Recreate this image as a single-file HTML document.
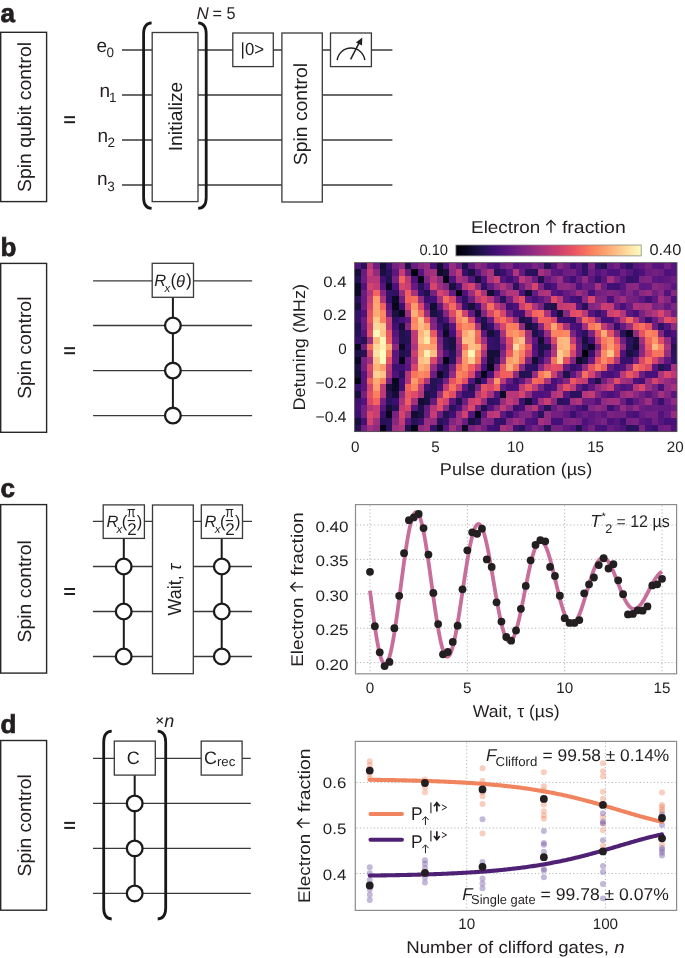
<!DOCTYPE html>
<html><head><meta charset="utf-8"><style>html,body{margin:0;padding:0;background:#fff}svg{display:block;will-change:transform;text-rendering:geometricPrecision}</style></head>
<body><svg width="685" height="958" viewBox="0 0 685 958" font-family="'Liberation Sans', sans-serif" fill="#231f20">
<rect width="685" height="958" fill="#fff"/>
<text x="0.6" y="21.5" font-size="26" font-weight="bold" stroke="#231f20" stroke-width="0.7">a</text>
<text x="0.6" y="255.7" font-size="26" font-weight="bold" stroke="#231f20" stroke-width="0.7">b</text>
<text x="0.6" y="496.8" font-size="26" font-weight="bold" stroke="#231f20" stroke-width="0.7">c</text>
<text x="0.6" y="732.6" font-size="26" font-weight="bold" stroke="#231f20" stroke-width="0.7">d</text>
<rect x="0.7" y="32.3" width="45.90" height="169.30" fill="#fff" stroke="#2a2627" stroke-width="1.4"/>
<text transform="translate(30.8,117.0) rotate(-90)" font-size="19" text-anchor="middle" textLength="150.0" lengthAdjust="spacingAndGlyphs" >Spin qubit control</text>
<rect x="64.2" y="116.2" width="10.8" height="2" fill="#231f20"/>
<rect x="64.2" y="121.2" width="10.8" height="2" fill="#231f20"/>
<line x1="122" y1="50" x2="392.4" y2="50" stroke="#3b3839" stroke-width="1.3" />
<line x1="122" y1="95" x2="392.4" y2="95" stroke="#3b3839" stroke-width="1.3" />
<line x1="122" y1="140" x2="392.4" y2="140" stroke="#3b3839" stroke-width="1.3" />
<line x1="122" y1="185" x2="392.4" y2="185" stroke="#3b3839" stroke-width="1.3" />
<text x="96.5" y="51.9" font-size="19" >e</text>
<text x="106.5" y="57.0" font-size="13.5" >0</text>
<text x="99.6" y="96.7" font-size="19" >n</text>
<text x="108.9" y="101.8" font-size="13.5" >1</text>
<text x="97.5" y="141.7" font-size="19" >n</text>
<text x="107.6" y="147.2" font-size="13.5" >2</text>
<text x="96.9" y="184.5" font-size="19" >n</text>
<text x="107.3" y="190.6" font-size="13.5" >3</text>
<path d="M151.6,22.8 C146.8,23.1 143.6,26.8 143.6,33.8 L143.6,197.4 C143.6,204.4 146.8,208.1 151.6,208.4" fill="none" stroke="#1a1718" stroke-width="2.8"/>
<path d="M198.2,22.8 C203.0,23.1 206.2,26.8 206.2,33.8 L206.2,197.4 C206.2,204.4 203.0,208.1 198.2,208.4" fill="none" stroke="#1a1718" stroke-width="2.8"/>
<rect x="152.2" y="32.5" width="45.80" height="169.10" fill="#fff" stroke="#3b3839" stroke-width="1.3"/>
<text transform="translate(182.4,116.5) rotate(-90)" font-size="19" text-anchor="middle" textLength="69.5" lengthAdjust="spacingAndGlyphs" >Initialize</text>
<text x="196.6" y="19.0" font-size="17" font-style="italic" >N</text>
<text x="212.5" y="19.0" font-size="17" textLength="23" lengthAdjust="spacingAndGlyphs" >= 5</text>
<rect x="232.8" y="33.0" width="40.50" height="33.60" fill="#fff" stroke="#3b3839" stroke-width="1.3"/>
<text x="252.3" y="54.6" font-size="17.5" text-anchor="middle" textLength="23.5" lengthAdjust="spacingAndGlyphs" >|0&gt;</text>
<rect x="281.9" y="33.0" width="40.40" height="169.00" fill="#fff" stroke="#3b3839" stroke-width="1.3"/>
<text transform="translate(307.2,114.1) rotate(-90)" font-size="19" text-anchor="middle" textLength="102.3" lengthAdjust="spacingAndGlyphs" >Spin control</text>
<rect x="330.5" y="33.0" width="40.90" height="33.60" fill="#fff" stroke="#3b3839" stroke-width="1.3"/>
<path d="M337.2,60.2 A13.9,13.9 0 0 1 364.8,60.2" fill="none" stroke="#231f20" stroke-width="1.4"/>
<line x1="350.6" y1="59.4" x2="359.8" y2="41.6" stroke="#231f20" stroke-width="1.5" />
<path d="M362.3,37.4 L362.0,45.6 L355.9,42.6 Z" fill="#231f20"/>
<rect x="0.7" y="263.4" width="45.90" height="168.90" fill="#fff" stroke="#2a2627" stroke-width="1.4"/>
<text transform="translate(30.8,347.7) rotate(-90)" font-size="19" text-anchor="middle" textLength="102.3" lengthAdjust="spacingAndGlyphs" >Spin control</text>
<rect x="64.2" y="347.2" width="10.8" height="2" fill="#231f20"/>
<rect x="64.2" y="352.2" width="10.8" height="2" fill="#231f20"/>
<line x1="93.1" y1="280.8" x2="252.1" y2="280.8" stroke="#3b3839" stroke-width="1.3" />
<line x1="93.1" y1="325.5" x2="252.1" y2="325.5" stroke="#3b3839" stroke-width="1.3" />
<line x1="93.1" y1="370.6" x2="252.1" y2="370.6" stroke="#3b3839" stroke-width="1.3" />
<line x1="93.1" y1="415.6" x2="252.1" y2="415.6" stroke="#3b3839" stroke-width="1.3" />
<line x1="172.9" y1="297.3" x2="172.9" y2="415.6" stroke="#1d1a1b" stroke-width="2.0" />
<rect x="152.2" y="263.3" width="41.30" height="34.00" fill="#fff" stroke="#3b3839" stroke-width="1.3"/>
<circle cx="172.9" cy="325.5" r="7.85" fill="#fff" stroke="#1d1a1b" stroke-width="2.3"/>
<circle cx="172.9" cy="370.6" r="7.85" fill="#fff" stroke="#1d1a1b" stroke-width="2.3"/>
<circle cx="172.9" cy="415.6" r="7.85" fill="#fff" stroke="#1d1a1b" stroke-width="2.3"/>
<text x="154.2" y="286.4" font-size="16.5" font-style="italic" >R</text>
<text x="164.6" y="291.8" font-size="11.5" font-style="italic" >x</text>
<text x="170.4" y="286.0" font-size="17.5" >(</text>
<text x="176.0" y="286.6" font-size="16.5" font-style="italic" >θ</text>
<text x="185.9" y="286.0" font-size="17.5" >)</text>
<rect x="0.7" y="504.6" width="45.90" height="168.50" fill="#fff" stroke="#2a2627" stroke-width="1.4"/>
<text transform="translate(30.8,591.3) rotate(-90)" font-size="19" text-anchor="middle" textLength="102.3" lengthAdjust="spacingAndGlyphs" >Spin control</text>
<rect x="64.2" y="588.0" width="10.8" height="2" fill="#231f20"/>
<rect x="64.2" y="593.0" width="10.8" height="2" fill="#231f20"/>
<line x1="92.9" y1="521.4" x2="252.0" y2="521.4" stroke="#3b3839" stroke-width="1.3" />
<line x1="92.9" y1="566.5" x2="252.0" y2="566.5" stroke="#3b3839" stroke-width="1.3" />
<line x1="92.9" y1="611.5" x2="252.0" y2="611.5" stroke="#3b3839" stroke-width="1.3" />
<line x1="92.9" y1="656.5" x2="252.0" y2="656.5" stroke="#3b3839" stroke-width="1.3" />
<line x1="123.8" y1="538.4" x2="123.8" y2="656.5" stroke="#1d1a1b" stroke-width="2.0" />
<line x1="221.7" y1="538.4" x2="221.7" y2="656.5" stroke="#1d1a1b" stroke-width="2.0" />
<rect x="103.2" y="504.9" width="41.20" height="33.50" fill="#fff" stroke="#3b3839" stroke-width="1.3"/>
<text x="106.5" y="526.5" font-size="16.5" font-style="italic" >R</text>
<text x="116.60000000000001" y="532.6" font-size="11.5" font-style="italic" >x</text>
<text x="121.80000000000001" y="527.2" font-size="16.5" >(</text>
<text x="127.1" y="517.4" font-size="15" textLength="8.6" lengthAdjust="spacingAndGlyphs" >π</text>
<rect x="127.7" y="520.0" width="7.2" height="1.1" fill="#231f20"/>
<text x="127.2" y="535.3" font-size="17" >2</text>
<text x="136.8" y="527.2" font-size="16.5" >)</text>
<circle cx="123.7" cy="566.5" r="7.85" fill="#fff" stroke="#1d1a1b" stroke-width="2.3"/>
<circle cx="123.7" cy="611.5" r="7.85" fill="#fff" stroke="#1d1a1b" stroke-width="2.3"/>
<circle cx="123.7" cy="656.5" r="7.85" fill="#fff" stroke="#1d1a1b" stroke-width="2.3"/>
<rect x="201.3" y="504.9" width="41.20" height="33.50" fill="#fff" stroke="#3b3839" stroke-width="1.3"/>
<text x="204.60000000000002" y="526.5" font-size="16.5" font-style="italic" >R</text>
<text x="214.70000000000002" y="532.6" font-size="11.5" font-style="italic" >x</text>
<text x="219.9" y="527.2" font-size="16.5" >(</text>
<text x="225.20000000000002" y="517.4" font-size="15" textLength="8.6" lengthAdjust="spacingAndGlyphs" >π</text>
<rect x="225.8" y="520.0" width="7.2" height="1.1" fill="#231f20"/>
<text x="225.3" y="535.3" font-size="17" >2</text>
<text x="234.9" y="527.2" font-size="16.5" >)</text>
<circle cx="221.8" cy="566.5" r="7.85" fill="#fff" stroke="#1d1a1b" stroke-width="2.3"/>
<circle cx="221.8" cy="611.5" r="7.85" fill="#fff" stroke="#1d1a1b" stroke-width="2.3"/>
<circle cx="221.8" cy="656.5" r="7.85" fill="#fff" stroke="#1d1a1b" stroke-width="2.3"/>
<rect x="152.5" y="505.0" width="40.80" height="168.70" fill="#fff" stroke="#3b3839" stroke-width="1.3"/>
<text transform="translate(180.6,589.6) rotate(-90)" font-size="19" text-anchor="middle" textLength="51.8" lengthAdjust="spacingAndGlyphs" >Wait, <tspan font-style="italic">τ</tspan></text>
<rect x="0.7" y="740.5" width="45.90" height="169.70" fill="#fff" stroke="#2a2627" stroke-width="1.4"/>
<text transform="translate(30.8,825.4) rotate(-90)" font-size="19" text-anchor="middle" textLength="102.3" lengthAdjust="spacingAndGlyphs" >Spin control</text>
<rect x="64.2" y="821.9" width="10.8" height="2" fill="#231f20"/>
<rect x="64.2" y="826.9" width="10.8" height="2" fill="#231f20"/>
<line x1="93.0" y1="758.4" x2="250.8" y2="758.4" stroke="#3b3839" stroke-width="1.3" />
<line x1="93.0" y1="803.4" x2="250.8" y2="803.4" stroke="#3b3839" stroke-width="1.3" />
<line x1="93.0" y1="848.4" x2="250.8" y2="848.4" stroke="#3b3839" stroke-width="1.3" />
<line x1="93.0" y1="893.4" x2="250.8" y2="893.4" stroke="#3b3839" stroke-width="1.3" />
<path d="M111.7,731.2 C106.9,731.5 103.7,735.2 103.7,742.2 L103.7,908.0 C103.7,915.0 106.9,918.7 111.7,919.0" fill="none" stroke="#1a1718" stroke-width="2.8"/>
<path d="M157.7,731.2 C162.5,731.5 165.7,735.2 165.7,742.2 L165.7,908.0 C165.7,915.0 162.5,918.7 157.7,919.0" fill="none" stroke="#1a1718" stroke-width="2.8"/>
<line x1="134.7" y1="775.1" x2="134.7" y2="893.4" stroke="#1d1a1b" stroke-width="2.0" />
<rect x="114.3" y="741.1" width="41.00" height="34.00" fill="#fff" stroke="#3b3839" stroke-width="1.3"/>
<circle cx="134.7" cy="803.4" r="7.85" fill="#fff" stroke="#1d1a1b" stroke-width="2.3"/>
<circle cx="134.7" cy="848.4" r="7.85" fill="#fff" stroke="#1d1a1b" stroke-width="2.3"/>
<circle cx="134.7" cy="893.4" r="7.85" fill="#fff" stroke="#1d1a1b" stroke-width="2.3"/>
<text x="133.3" y="764.4" font-size="18" text-anchor="middle" >C</text>
<rect x="201.2" y="741.1" width="40.90" height="34.00" fill="#fff" stroke="#3b3839" stroke-width="1.3"/>
<text x="203.9" y="764.4" font-size="18" >C</text>
<text x="216.9" y="766.4" font-size="13" textLength="18.4" lengthAdjust="spacingAndGlyphs" >rec</text>
<path d="M156.7,717.8 L162.7,723.4 M162.7,717.8 L156.7,723.4" stroke="#231f20" stroke-width="1.25" fill="none"/>
<text x="164.2" y="726.8" font-size="18" font-style="italic" >n</text>
<g shape-rendering="crispEdges"><rect x="354.50" y="262.60" width="6.67" height="7.11" fill="#51127c"/><rect x="360.82" y="262.60" width="6.67" height="7.11" fill="#271258"/><rect x="367.15" y="262.60" width="6.67" height="7.11" fill="#bc3978"/><rect x="373.47" y="262.60" width="6.67" height="7.11" fill="#6e1e81"/><rect x="379.79" y="262.60" width="6.67" height="7.11" fill="#130d34"/><rect x="386.12" y="262.60" width="6.67" height="7.11" fill="#36106b"/><rect x="392.44" y="262.60" width="6.67" height="7.11" fill="#762181"/><rect x="398.76" y="262.60" width="6.67" height="7.11" fill="#8e2a81"/><rect x="405.09" y="262.60" width="6.67" height="7.11" fill="#1d1147"/><rect x="411.41" y="262.60" width="6.67" height="7.11" fill="#6a1c81"/><rect x="417.74" y="262.60" width="6.67" height="7.11" fill="#882781"/><rect x="424.06" y="262.60" width="6.67" height="7.11" fill="#992d80"/><rect x="430.38" y="262.60" width="6.67" height="7.11" fill="#451077"/><rect x="436.71" y="262.60" width="6.67" height="7.11" fill="#120d31"/><rect x="443.03" y="262.60" width="6.67" height="7.11" fill="#4f127b"/><rect x="449.35" y="262.60" width="6.67" height="7.11" fill="#962c80"/><rect x="455.68" y="262.60" width="6.67" height="7.11" fill="#6e1e81"/><rect x="462.00" y="262.60" width="6.67" height="7.11" fill="#1e1149"/><rect x="468.32" y="262.60" width="6.67" height="7.11" fill="#5f187f"/><rect x="474.65" y="262.60" width="6.67" height="7.11" fill="#8b2981"/><rect x="480.97" y="262.60" width="6.67" height="7.11" fill="#792282"/><rect x="487.29" y="262.60" width="6.67" height="7.11" fill="#52137c"/><rect x="493.62" y="262.60" width="6.67" height="7.11" fill="#451077"/><rect x="499.94" y="262.60" width="6.67" height="7.11" fill="#701f81"/><rect x="506.26" y="262.60" width="6.67" height="7.11" fill="#7e2482"/><rect x="512.59" y="262.60" width="6.67" height="7.11" fill="#52137c"/><rect x="518.91" y="262.60" width="6.67" height="7.11" fill="#5c167f"/><rect x="525.24" y="262.60" width="6.67" height="7.11" fill="#601880"/><rect x="531.56" y="262.60" width="6.67" height="7.11" fill="#7b2382"/><rect x="537.88" y="262.60" width="6.67" height="7.11" fill="#6b1d81"/><rect x="544.21" y="262.60" width="6.67" height="7.11" fill="#241253"/><rect x="550.53" y="262.60" width="6.67" height="7.11" fill="#4f127b"/><rect x="556.85" y="262.60" width="6.67" height="7.11" fill="#882781"/><rect x="563.18" y="262.60" width="6.67" height="7.11" fill="#6e1e81"/><rect x="569.50" y="262.60" width="6.67" height="7.11" fill="#400f74"/><rect x="575.82" y="262.60" width="6.67" height="7.11" fill="#57157e"/><rect x="582.15" y="262.60" width="6.67" height="7.11" fill="#2f1163"/><rect x="588.47" y="262.60" width="6.67" height="7.11" fill="#7c2382"/><rect x="594.79" y="262.60" width="6.67" height="7.11" fill="#341069"/><rect x="601.12" y="262.60" width="6.67" height="7.11" fill="#221150"/><rect x="607.44" y="262.60" width="6.67" height="7.11" fill="#641a80"/><rect x="613.76" y="262.60" width="6.67" height="7.11" fill="#752181"/><rect x="620.09" y="262.60" width="6.67" height="7.11" fill="#491078"/><rect x="626.41" y="262.60" width="6.67" height="7.11" fill="#2f1163"/><rect x="632.74" y="262.60" width="6.67" height="7.11" fill="#56147d"/><rect x="639.06" y="262.60" width="6.67" height="7.11" fill="#601880"/><rect x="645.38" y="262.60" width="6.67" height="7.11" fill="#732081"/><rect x="651.71" y="262.60" width="6.67" height="7.11" fill="#59157e"/><rect x="658.03" y="262.60" width="6.67" height="7.11" fill="#54137d"/><rect x="664.35" y="262.60" width="6.67" height="7.11" fill="#721f81"/><rect x="670.68" y="262.60" width="6.67" height="7.11" fill="#54137d"/><rect x="354.50" y="269.36" width="6.67" height="7.11" fill="#150e38"/><rect x="360.82" y="269.36" width="6.67" height="7.11" fill="#681c81"/><rect x="367.15" y="269.36" width="6.67" height="7.11" fill="#ca3e72"/><rect x="373.47" y="269.36" width="6.67" height="7.11" fill="#932b80"/><rect x="379.79" y="269.36" width="6.67" height="7.11" fill="#19103f"/><rect x="386.12" y="269.36" width="6.67" height="7.11" fill="#2a115c"/><rect x="392.44" y="269.36" width="6.67" height="7.11" fill="#5d177f"/><rect x="398.76" y="269.36" width="6.67" height="7.11" fill="#c73d73"/><rect x="405.09" y="269.36" width="6.67" height="7.11" fill="#6a1c81"/><rect x="411.41" y="269.36" width="6.67" height="7.11" fill="#03030f"/><rect x="417.74" y="269.36" width="6.67" height="7.11" fill="#56147d"/><rect x="424.06" y="269.36" width="6.67" height="7.11" fill="#992d80"/><rect x="430.38" y="269.36" width="6.67" height="7.11" fill="#a3307e"/><rect x="436.71" y="269.36" width="6.67" height="7.11" fill="#0e0b2b"/><rect x="443.03" y="269.36" width="6.67" height="7.11" fill="#180f3d"/><rect x="449.35" y="269.36" width="6.67" height="7.11" fill="#8e2a81"/><rect x="455.68" y="269.36" width="6.67" height="7.11" fill="#c03a76"/><rect x="462.00" y="269.36" width="6.67" height="7.11" fill="#38106c"/><rect x="468.32" y="269.36" width="6.67" height="7.11" fill="#1a1042"/><rect x="474.65" y="269.36" width="6.67" height="7.11" fill="#56147d"/><rect x="480.97" y="269.36" width="6.67" height="7.11" fill="#8b2981"/><rect x="487.29" y="269.36" width="6.67" height="7.11" fill="#ab337c"/><rect x="493.62" y="269.36" width="6.67" height="7.11" fill="#271258"/><rect x="499.94" y="269.36" width="6.67" height="7.11" fill="#390f6e"/><rect x="506.26" y="269.36" width="6.67" height="7.11" fill="#5c167f"/><rect x="512.59" y="269.36" width="6.67" height="7.11" fill="#b0357b"/><rect x="518.91" y="269.36" width="6.67" height="7.11" fill="#651a80"/><rect x="525.24" y="269.36" width="6.67" height="7.11" fill="#2c115f"/><rect x="531.56" y="269.36" width="6.67" height="7.11" fill="#29115a"/><rect x="537.88" y="269.36" width="6.67" height="7.11" fill="#a5317e"/><rect x="544.21" y="269.36" width="6.67" height="7.11" fill="#8c2981"/><rect x="550.53" y="269.36" width="6.67" height="7.11" fill="#5c167f"/><rect x="556.85" y="269.36" width="6.67" height="7.11" fill="#56147d"/><rect x="563.18" y="269.36" width="6.67" height="7.11" fill="#6d1d81"/><rect x="569.50" y="269.36" width="6.67" height="7.11" fill="#721f81"/><rect x="575.82" y="269.36" width="6.67" height="7.11" fill="#54137d"/><rect x="582.15" y="269.36" width="6.67" height="7.11" fill="#311165"/><rect x="588.47" y="269.36" width="6.67" height="7.11" fill="#6b1d81"/><rect x="594.79" y="269.36" width="6.67" height="7.11" fill="#52137c"/><rect x="601.12" y="269.36" width="6.67" height="7.11" fill="#641a80"/><rect x="607.44" y="269.36" width="6.67" height="7.11" fill="#4c117a"/><rect x="613.76" y="269.36" width="6.67" height="7.11" fill="#4e117b"/><rect x="620.09" y="269.36" width="6.67" height="7.11" fill="#6a1c81"/><rect x="626.41" y="269.36" width="6.67" height="7.11" fill="#56147d"/><rect x="632.74" y="269.36" width="6.67" height="7.11" fill="#3d0f71"/><rect x="639.06" y="269.36" width="6.67" height="7.11" fill="#4e117b"/><rect x="645.38" y="269.36" width="6.67" height="7.11" fill="#6a1c81"/><rect x="651.71" y="269.36" width="6.67" height="7.11" fill="#732081"/><rect x="658.03" y="269.36" width="6.67" height="7.11" fill="#6a1c81"/><rect x="664.35" y="269.36" width="6.67" height="7.11" fill="#4f127b"/><rect x="670.68" y="269.36" width="6.67" height="7.11" fill="#56147d"/><rect x="354.50" y="276.12" width="6.67" height="7.11" fill="#21114e"/><rect x="360.82" y="276.12" width="6.67" height="7.11" fill="#6d1d81"/><rect x="367.15" y="276.12" width="6.67" height="7.11" fill="#b83779"/><rect x="373.47" y="276.12" width="6.67" height="7.11" fill="#b83779"/><rect x="379.79" y="276.12" width="6.67" height="7.11" fill="#3f0f72"/><rect x="386.12" y="276.12" width="6.67" height="7.11" fill="#21114e"/><rect x="392.44" y="276.12" width="6.67" height="7.11" fill="#782281"/><rect x="398.76" y="276.12" width="6.67" height="7.11" fill="#f3655c"/><rect x="405.09" y="276.12" width="6.67" height="7.11" fill="#bc3978"/><rect x="411.41" y="276.12" width="6.67" height="7.11" fill="#4f127b"/><rect x="417.74" y="276.12" width="6.67" height="7.11" fill="#060518"/><rect x="424.06" y="276.12" width="6.67" height="7.11" fill="#802582"/><rect x="430.38" y="276.12" width="6.67" height="7.11" fill="#b73779"/><rect x="436.71" y="276.12" width="6.67" height="7.11" fill="#8c2981"/><rect x="443.03" y="276.12" width="6.67" height="7.11" fill="#040414"/><rect x="449.35" y="276.12" width="6.67" height="7.11" fill="#51127c"/><rect x="455.68" y="276.12" width="6.67" height="7.11" fill="#ab337c"/><rect x="462.00" y="276.12" width="6.67" height="7.11" fill="#992d80"/><rect x="468.32" y="276.12" width="6.67" height="7.11" fill="#57157e"/><rect x="474.65" y="276.12" width="6.67" height="7.11" fill="#180f3d"/><rect x="480.97" y="276.12" width="6.67" height="7.11" fill="#4e117b"/><rect x="487.29" y="276.12" width="6.67" height="7.11" fill="#a8327d"/><rect x="493.62" y="276.12" width="6.67" height="7.11" fill="#cc3f71"/><rect x="499.94" y="276.12" width="6.67" height="7.11" fill="#56147d"/><rect x="506.26" y="276.12" width="6.67" height="7.11" fill="#3f0f72"/><rect x="512.59" y="276.12" width="6.67" height="7.11" fill="#601880"/><rect x="518.91" y="276.12" width="6.67" height="7.11" fill="#bd3977"/><rect x="525.24" y="276.12" width="6.67" height="7.11" fill="#9b2e7f"/><rect x="531.56" y="276.12" width="6.67" height="7.11" fill="#6a1c81"/><rect x="537.88" y="276.12" width="6.67" height="7.11" fill="#221150"/><rect x="544.21" y="276.12" width="6.67" height="7.11" fill="#651a80"/><rect x="550.53" y="276.12" width="6.67" height="7.11" fill="#812581"/><rect x="556.85" y="276.12" width="6.67" height="7.11" fill="#992d80"/><rect x="563.18" y="276.12" width="6.67" height="7.11" fill="#57157e"/><rect x="569.50" y="276.12" width="6.67" height="7.11" fill="#400f74"/><rect x="575.82" y="276.12" width="6.67" height="7.11" fill="#671b80"/><rect x="582.15" y="276.12" width="6.67" height="7.11" fill="#912b81"/><rect x="588.47" y="276.12" width="6.67" height="7.11" fill="#5d177f"/><rect x="594.79" y="276.12" width="6.67" height="7.11" fill="#36106b"/><rect x="601.12" y="276.12" width="6.67" height="7.11" fill="#5a167e"/><rect x="607.44" y="276.12" width="6.67" height="7.11" fill="#a5317e"/><rect x="613.76" y="276.12" width="6.67" height="7.11" fill="#762181"/><rect x="620.09" y="276.12" width="6.67" height="7.11" fill="#57157e"/><rect x="626.41" y="276.12" width="6.67" height="7.11" fill="#341069"/><rect x="632.74" y="276.12" width="6.67" height="7.11" fill="#3d0f71"/><rect x="639.06" y="276.12" width="6.67" height="7.11" fill="#7b2382"/><rect x="645.38" y="276.12" width="6.67" height="7.11" fill="#812581"/><rect x="651.71" y="276.12" width="6.67" height="7.11" fill="#5c167f"/><rect x="658.03" y="276.12" width="6.67" height="7.11" fill="#59157e"/><rect x="664.35" y="276.12" width="6.67" height="7.11" fill="#601880"/><rect x="670.68" y="276.12" width="6.67" height="7.11" fill="#6e1e81"/><rect x="354.50" y="282.88" width="6.67" height="7.11" fill="#0c0926"/><rect x="360.82" y="282.88" width="6.67" height="7.11" fill="#52137c"/><rect x="367.15" y="282.88" width="6.67" height="7.11" fill="#d3436e"/><rect x="373.47" y="282.88" width="6.67" height="7.11" fill="#c43c75"/><rect x="379.79" y="282.88" width="6.67" height="7.11" fill="#59157e"/><rect x="386.12" y="282.88" width="6.67" height="7.11" fill="#0a0822"/><rect x="392.44" y="282.88" width="6.67" height="7.11" fill="#4c117a"/><rect x="398.76" y="282.88" width="6.67" height="7.11" fill="#d6456c"/><rect x="405.09" y="282.88" width="6.67" height="7.11" fill="#ca3e72"/><rect x="411.41" y="282.88" width="6.67" height="7.11" fill="#671b80"/><rect x="417.74" y="282.88" width="6.67" height="7.11" fill="#29115a"/><rect x="424.06" y="282.88" width="6.67" height="7.11" fill="#57157e"/><rect x="430.38" y="282.88" width="6.67" height="7.11" fill="#d8456c"/><rect x="436.71" y="282.88" width="6.67" height="7.11" fill="#a02f7f"/><rect x="443.03" y="282.88" width="6.67" height="7.11" fill="#832681"/><rect x="449.35" y="282.88" width="6.67" height="7.11" fill="#19103f"/><rect x="455.68" y="282.88" width="6.67" height="7.11" fill="#491078"/><rect x="462.00" y="282.88" width="6.67" height="7.11" fill="#b83779"/><rect x="468.32" y="282.88" width="6.67" height="7.11" fill="#d8456c"/><rect x="474.65" y="282.88" width="6.67" height="7.11" fill="#8c2981"/><rect x="480.97" y="282.88" width="6.67" height="7.11" fill="#2f1163"/><rect x="487.29" y="282.88" width="6.67" height="7.11" fill="#651a80"/><rect x="493.62" y="282.88" width="6.67" height="7.11" fill="#912b81"/><rect x="499.94" y="282.88" width="6.67" height="7.11" fill="#b3367a"/><rect x="506.26" y="282.88" width="6.67" height="7.11" fill="#8b2981"/><rect x="512.59" y="282.88" width="6.67" height="7.11" fill="#2c115f"/><rect x="518.91" y="282.88" width="6.67" height="7.11" fill="#701f81"/><rect x="525.24" y="282.88" width="6.67" height="7.11" fill="#9e2f7f"/><rect x="531.56" y="282.88" width="6.67" height="7.11" fill="#d6456c"/><rect x="537.88" y="282.88" width="6.67" height="7.11" fill="#7c2382"/><rect x="544.21" y="282.88" width="6.67" height="7.11" fill="#3b0f70"/><rect x="550.53" y="282.88" width="6.67" height="7.11" fill="#4c117a"/><rect x="556.85" y="282.88" width="6.67" height="7.11" fill="#8e2a81"/><rect x="563.18" y="282.88" width="6.67" height="7.11" fill="#912b81"/><rect x="569.50" y="282.88" width="6.67" height="7.11" fill="#832681"/><rect x="575.82" y="282.88" width="6.67" height="7.11" fill="#4c117a"/><rect x="582.15" y="282.88" width="6.67" height="7.11" fill="#6b1d81"/><rect x="588.47" y="282.88" width="6.67" height="7.11" fill="#681c81"/><rect x="594.79" y="282.88" width="6.67" height="7.11" fill="#a6317d"/><rect x="601.12" y="282.88" width="6.67" height="7.11" fill="#6d1d81"/><rect x="607.44" y="282.88" width="6.67" height="7.11" fill="#400f74"/><rect x="613.76" y="282.88" width="6.67" height="7.11" fill="#400f74"/><rect x="620.09" y="282.88" width="6.67" height="7.11" fill="#57157e"/><rect x="626.41" y="282.88" width="6.67" height="7.11" fill="#882781"/><rect x="632.74" y="282.88" width="6.67" height="7.11" fill="#8b2981"/><rect x="639.06" y="282.88" width="6.67" height="7.11" fill="#5d177f"/><rect x="645.38" y="282.88" width="6.67" height="7.11" fill="#601880"/><rect x="651.71" y="282.88" width="6.67" height="7.11" fill="#8b2981"/><rect x="658.03" y="282.88" width="6.67" height="7.11" fill="#812581"/><rect x="664.35" y="282.88" width="6.67" height="7.11" fill="#762181"/><rect x="670.68" y="282.88" width="6.67" height="7.11" fill="#59157e"/><rect x="354.50" y="289.64" width="6.67" height="7.11" fill="#0b0924"/><rect x="360.82" y="289.64" width="6.67" height="7.11" fill="#6b1d81"/><rect x="367.15" y="289.64" width="6.67" height="7.11" fill="#b5367a"/><rect x="373.47" y="289.64" width="6.67" height="7.11" fill="#f3655c"/><rect x="379.79" y="289.64" width="6.67" height="7.11" fill="#882781"/><rect x="386.12" y="289.64" width="6.67" height="7.11" fill="#341069"/><rect x="392.44" y="289.64" width="6.67" height="7.11" fill="#2f1163"/><rect x="398.76" y="289.64" width="6.67" height="7.11" fill="#982d80"/><rect x="405.09" y="289.64" width="6.67" height="7.11" fill="#f05f5e"/><rect x="411.41" y="289.64" width="6.67" height="7.11" fill="#a6317d"/><rect x="417.74" y="289.64" width="6.67" height="7.11" fill="#390f6e"/><rect x="424.06" y="289.64" width="6.67" height="7.11" fill="#1e1149"/><rect x="430.38" y="289.64" width="6.67" height="7.11" fill="#752181"/><rect x="436.71" y="289.64" width="6.67" height="7.11" fill="#d5446d"/><rect x="443.03" y="289.64" width="6.67" height="7.11" fill="#bd3977"/><rect x="449.35" y="289.64" width="6.67" height="7.11" fill="#621980"/><rect x="455.68" y="289.64" width="6.67" height="7.11" fill="#03030f"/><rect x="462.00" y="289.64" width="6.67" height="7.11" fill="#4c117a"/><rect x="468.32" y="289.64" width="6.67" height="7.11" fill="#9b2e7f"/><rect x="474.65" y="289.64" width="6.67" height="7.11" fill="#e75263"/><rect x="480.97" y="289.64" width="6.67" height="7.11" fill="#a6317d"/><rect x="487.29" y="289.64" width="6.67" height="7.11" fill="#120d31"/><rect x="493.62" y="289.64" width="6.67" height="7.11" fill="#3b0f70"/><rect x="499.94" y="289.64" width="6.67" height="7.11" fill="#882781"/><rect x="506.26" y="289.64" width="6.67" height="7.11" fill="#b0357b"/><rect x="512.59" y="289.64" width="6.67" height="7.11" fill="#b0357b"/><rect x="518.91" y="289.64" width="6.67" height="7.11" fill="#4c117a"/><rect x="525.24" y="289.64" width="6.67" height="7.11" fill="#140e36"/><rect x="531.56" y="289.64" width="6.67" height="7.11" fill="#641a80"/><rect x="537.88" y="289.64" width="6.67" height="7.11" fill="#aa337d"/><rect x="544.21" y="289.64" width="6.67" height="7.11" fill="#b0357b"/><rect x="550.53" y="289.64" width="6.67" height="7.11" fill="#59157e"/><rect x="556.85" y="289.64" width="6.67" height="7.11" fill="#4e117b"/><rect x="563.18" y="289.64" width="6.67" height="7.11" fill="#641a80"/><rect x="569.50" y="289.64" width="6.67" height="7.11" fill="#762181"/><rect x="575.82" y="289.64" width="6.67" height="7.11" fill="#9b2e7f"/><rect x="582.15" y="289.64" width="6.67" height="7.11" fill="#832681"/><rect x="588.47" y="289.64" width="6.67" height="7.11" fill="#471078"/><rect x="594.79" y="289.64" width="6.67" height="7.11" fill="#701f81"/><rect x="601.12" y="289.64" width="6.67" height="7.11" fill="#792282"/><rect x="607.44" y="289.64" width="6.67" height="7.11" fill="#842681"/><rect x="613.76" y="289.64" width="6.67" height="7.11" fill="#7c2382"/><rect x="620.09" y="289.64" width="6.67" height="7.11" fill="#641a80"/><rect x="626.41" y="289.64" width="6.67" height="7.11" fill="#7e2482"/><rect x="632.74" y="289.64" width="6.67" height="7.11" fill="#621980"/><rect x="639.06" y="289.64" width="6.67" height="7.11" fill="#892881"/><rect x="645.38" y="289.64" width="6.67" height="7.11" fill="#962c80"/><rect x="651.71" y="289.64" width="6.67" height="7.11" fill="#701f81"/><rect x="658.03" y="289.64" width="6.67" height="7.11" fill="#862781"/><rect x="664.35" y="289.64" width="6.67" height="7.11" fill="#52137c"/><rect x="670.68" y="289.64" width="6.67" height="7.11" fill="#862781"/><rect x="354.50" y="296.40" width="6.67" height="7.11" fill="#29115a"/><rect x="360.82" y="296.40" width="6.67" height="7.11" fill="#671b80"/><rect x="367.15" y="296.40" width="6.67" height="7.11" fill="#c73d73"/><rect x="373.47" y="296.40" width="6.67" height="7.11" fill="#fe9f6d"/><rect x="379.79" y="296.40" width="6.67" height="7.11" fill="#ae347b"/><rect x="386.12" y="296.40" width="6.67" height="7.11" fill="#341069"/><rect x="392.44" y="296.40" width="6.67" height="7.11" fill="#0d0a29"/><rect x="398.76" y="296.40" width="6.67" height="7.11" fill="#721f81"/><rect x="405.09" y="296.40" width="6.67" height="7.11" fill="#f2645c"/><rect x="411.41" y="296.40" width="6.67" height="7.11" fill="#f66e5c"/><rect x="417.74" y="296.40" width="6.67" height="7.11" fill="#932b80"/><rect x="424.06" y="296.40" width="6.67" height="7.11" fill="#3b0f70"/><rect x="430.38" y="296.40" width="6.67" height="7.11" fill="#440f76"/><rect x="436.71" y="296.40" width="6.67" height="7.11" fill="#a5317e"/><rect x="443.03" y="296.40" width="6.67" height="7.11" fill="#f66c5c"/><rect x="449.35" y="296.40" width="6.67" height="7.11" fill="#d9466b"/><rect x="455.68" y="296.40" width="6.67" height="7.11" fill="#5d177f"/><rect x="462.00" y="296.40" width="6.67" height="7.11" fill="#2f1163"/><rect x="468.32" y="296.40" width="6.67" height="7.11" fill="#701f81"/><rect x="474.65" y="296.40" width="6.67" height="7.11" fill="#c23b75"/><rect x="480.97" y="296.40" width="6.67" height="7.11" fill="#de4968"/><rect x="487.29" y="296.40" width="6.67" height="7.11" fill="#b5367a"/><rect x="493.62" y="296.40" width="6.67" height="7.11" fill="#6d1d81"/><rect x="499.94" y="296.40" width="6.67" height="7.11" fill="#2a115c"/><rect x="506.26" y="296.40" width="6.67" height="7.11" fill="#732081"/><rect x="512.59" y="296.40" width="6.67" height="7.11" fill="#c53c74"/><rect x="518.91" y="296.40" width="6.67" height="7.11" fill="#e44f64"/><rect x="525.24" y="296.40" width="6.67" height="7.11" fill="#5f187f"/><rect x="531.56" y="296.40" width="6.67" height="7.11" fill="#451077"/><rect x="537.88" y="296.40" width="6.67" height="7.11" fill="#5d177f"/><rect x="544.21" y="296.40" width="6.67" height="7.11" fill="#7c2382"/><rect x="550.53" y="296.40" width="6.67" height="7.11" fill="#e04c67"/><rect x="556.85" y="296.40" width="6.67" height="7.11" fill="#bc3978"/><rect x="563.18" y="296.40" width="6.67" height="7.11" fill="#5f187f"/><rect x="569.50" y="296.40" width="6.67" height="7.11" fill="#451077"/><rect x="575.82" y="296.40" width="6.67" height="7.11" fill="#3d0f71"/><rect x="582.15" y="296.40" width="6.67" height="7.11" fill="#8e2a81"/><rect x="588.47" y="296.40" width="6.67" height="7.11" fill="#db476a"/><rect x="594.79" y="296.40" width="6.67" height="7.11" fill="#812581"/><rect x="601.12" y="296.40" width="6.67" height="7.11" fill="#812581"/><rect x="607.44" y="296.40" width="6.67" height="7.11" fill="#4a1079"/><rect x="613.76" y="296.40" width="6.67" height="7.11" fill="#842681"/><rect x="620.09" y="296.40" width="6.67" height="7.11" fill="#9e2f7f"/><rect x="626.41" y="296.40" width="6.67" height="7.11" fill="#752181"/><rect x="632.74" y="296.40" width="6.67" height="7.11" fill="#721f81"/><rect x="639.06" y="296.40" width="6.67" height="7.11" fill="#5c167f"/><rect x="645.38" y="296.40" width="6.67" height="7.11" fill="#420f75"/><rect x="651.71" y="296.40" width="6.67" height="7.11" fill="#601880"/><rect x="658.03" y="296.40" width="6.67" height="7.11" fill="#a02f7f"/><rect x="664.35" y="296.40" width="6.67" height="7.11" fill="#832681"/><rect x="670.68" y="296.40" width="6.67" height="7.11" fill="#4e117b"/><rect x="354.50" y="303.16" width="6.67" height="7.11" fill="#19103f"/><rect x="360.82" y="303.16" width="6.67" height="7.11" fill="#6a1c81"/><rect x="367.15" y="303.16" width="6.67" height="7.11" fill="#d8456c"/><rect x="373.47" y="303.16" width="6.67" height="7.11" fill="#fea772"/><rect x="379.79" y="303.16" width="6.67" height="7.11" fill="#f2625d"/><rect x="386.12" y="303.16" width="6.67" height="7.11" fill="#57157e"/><rect x="392.44" y="303.16" width="6.67" height="7.11" fill="#06051a"/><rect x="398.76" y="303.16" width="6.67" height="7.11" fill="#3d0f71"/><rect x="405.09" y="303.16" width="6.67" height="7.11" fill="#d8456c"/><rect x="411.41" y="303.16" width="6.67" height="7.11" fill="#fd9869"/><rect x="417.74" y="303.16" width="6.67" height="7.11" fill="#db476a"/><rect x="424.06" y="303.16" width="6.67" height="7.11" fill="#621980"/><rect x="430.38" y="303.16" width="6.67" height="7.11" fill="#130d34"/><rect x="436.71" y="303.16" width="6.67" height="7.11" fill="#5d177f"/><rect x="443.03" y="303.16" width="6.67" height="7.11" fill="#c73d73"/><rect x="449.35" y="303.16" width="6.67" height="7.11" fill="#f56b5c"/><rect x="455.68" y="303.16" width="6.67" height="7.11" fill="#b3367a"/><rect x="462.00" y="303.16" width="6.67" height="7.11" fill="#390f6e"/><rect x="468.32" y="303.16" width="6.67" height="7.11" fill="#180f3d"/><rect x="474.65" y="303.16" width="6.67" height="7.11" fill="#420f75"/><rect x="480.97" y="303.16" width="6.67" height="7.11" fill="#b2357b"/><rect x="487.29" y="303.16" width="6.67" height="7.11" fill="#f7705c"/><rect x="493.62" y="303.16" width="6.67" height="7.11" fill="#c23b75"/><rect x="499.94" y="303.16" width="6.67" height="7.11" fill="#992d80"/><rect x="506.26" y="303.16" width="6.67" height="7.11" fill="#3f0f72"/><rect x="512.59" y="303.16" width="6.67" height="7.11" fill="#4f127b"/><rect x="518.91" y="303.16" width="6.67" height="7.11" fill="#ca3e72"/><rect x="525.24" y="303.16" width="6.67" height="7.11" fill="#eb5760"/><rect x="531.56" y="303.16" width="6.67" height="7.11" fill="#ad347c"/><rect x="537.88" y="303.16" width="6.67" height="7.11" fill="#782281"/><rect x="544.21" y="303.16" width="6.67" height="7.11" fill="#241253"/><rect x="550.53" y="303.16" width="6.67" height="7.11" fill="#20114b"/><rect x="556.85" y="303.16" width="6.67" height="7.11" fill="#c03a76"/><rect x="563.18" y="303.16" width="6.67" height="7.11" fill="#ca3e72"/><rect x="569.50" y="303.16" width="6.67" height="7.11" fill="#cf4070"/><rect x="575.82" y="303.16" width="6.67" height="7.11" fill="#59157e"/><rect x="582.15" y="303.16" width="6.67" height="7.11" fill="#271258"/><rect x="588.47" y="303.16" width="6.67" height="7.11" fill="#812581"/><rect x="594.79" y="303.16" width="6.67" height="7.11" fill="#8e2a81"/><rect x="601.12" y="303.16" width="6.67" height="7.11" fill="#ca3e72"/><rect x="607.44" y="303.16" width="6.67" height="7.11" fill="#c53c74"/><rect x="613.76" y="303.16" width="6.67" height="7.11" fill="#6b1d81"/><rect x="620.09" y="303.16" width="6.67" height="7.11" fill="#4a1079"/><rect x="626.41" y="303.16" width="6.67" height="7.11" fill="#681c81"/><rect x="632.74" y="303.16" width="6.67" height="7.11" fill="#ad347c"/><rect x="639.06" y="303.16" width="6.67" height="7.11" fill="#a5317e"/><rect x="645.38" y="303.16" width="6.67" height="7.11" fill="#aa337d"/><rect x="651.71" y="303.16" width="6.67" height="7.11" fill="#782281"/><rect x="658.03" y="303.16" width="6.67" height="7.11" fill="#832681"/><rect x="664.35" y="303.16" width="6.67" height="7.11" fill="#621980"/><rect x="670.68" y="303.16" width="6.67" height="7.11" fill="#802582"/><rect x="354.50" y="309.92" width="6.67" height="7.11" fill="#341069"/><rect x="360.82" y="309.92" width="6.67" height="7.11" fill="#4f127b"/><rect x="367.15" y="309.92" width="6.67" height="7.11" fill="#e75263"/><rect x="373.47" y="309.92" width="6.67" height="7.11" fill="#feaa74"/><rect x="379.79" y="309.92" width="6.67" height="7.11" fill="#fc8961"/><rect x="386.12" y="309.92" width="6.67" height="7.11" fill="#701f81"/><rect x="392.44" y="309.92" width="6.67" height="7.11" fill="#19103f"/><rect x="398.76" y="309.92" width="6.67" height="7.11" fill="#08071e"/><rect x="405.09" y="309.92" width="6.67" height="7.11" fill="#9e2f7f"/><rect x="411.41" y="309.92" width="6.67" height="7.11" fill="#feae77"/><rect x="417.74" y="309.92" width="6.67" height="7.11" fill="#f7725c"/><rect x="424.06" y="309.92" width="6.67" height="7.11" fill="#982d80"/><rect x="430.38" y="309.92" width="6.67" height="7.11" fill="#1a1042"/><rect x="436.71" y="309.92" width="6.67" height="7.11" fill="#2c115f"/><rect x="443.03" y="309.92" width="6.67" height="7.11" fill="#842681"/><rect x="449.35" y="309.92" width="6.67" height="7.11" fill="#df4a68"/><rect x="455.68" y="309.92" width="6.67" height="7.11" fill="#fd9668"/><rect x="462.00" y="309.92" width="6.67" height="7.11" fill="#d0416f"/><rect x="468.32" y="309.92" width="6.67" height="7.11" fill="#641a80"/><rect x="474.65" y="309.92" width="6.67" height="7.11" fill="#150e38"/><rect x="480.97" y="309.92" width="6.67" height="7.11" fill="#802582"/><rect x="487.29" y="309.92" width="6.67" height="7.11" fill="#d6456c"/><rect x="493.62" y="309.92" width="6.67" height="7.11" fill="#f7725c"/><rect x="499.94" y="309.92" width="6.67" height="7.11" fill="#d8456c"/><rect x="506.26" y="309.92" width="6.67" height="7.11" fill="#721f81"/><rect x="512.59" y="309.92" width="6.67" height="7.11" fill="#3f0f72"/><rect x="518.91" y="309.92" width="6.67" height="7.11" fill="#3f0f72"/><rect x="525.24" y="309.92" width="6.67" height="7.11" fill="#ba3878"/><rect x="531.56" y="309.92" width="6.67" height="7.11" fill="#f3655c"/><rect x="537.88" y="309.92" width="6.67" height="7.11" fill="#f66e5c"/><rect x="544.21" y="309.92" width="6.67" height="7.11" fill="#a8327d"/><rect x="550.53" y="309.92" width="6.67" height="7.11" fill="#420f75"/><rect x="556.85" y="309.92" width="6.67" height="7.11" fill="#150e38"/><rect x="563.18" y="309.92" width="6.67" height="7.11" fill="#862781"/><rect x="569.50" y="309.92" width="6.67" height="7.11" fill="#e04c67"/><rect x="575.82" y="309.92" width="6.67" height="7.11" fill="#e75263"/><rect x="582.15" y="309.92" width="6.67" height="7.11" fill="#ba3878"/><rect x="588.47" y="309.92" width="6.67" height="7.11" fill="#56147d"/><rect x="594.79" y="309.92" width="6.67" height="7.11" fill="#36106b"/><rect x="601.12" y="309.92" width="6.67" height="7.11" fill="#56147d"/><rect x="607.44" y="309.92" width="6.67" height="7.11" fill="#cd4071"/><rect x="613.76" y="309.92" width="6.67" height="7.11" fill="#db476a"/><rect x="620.09" y="309.92" width="6.67" height="7.11" fill="#b0357b"/><rect x="626.41" y="309.92" width="6.67" height="7.11" fill="#5c167f"/><rect x="632.74" y="309.92" width="6.67" height="7.11" fill="#471078"/><rect x="639.06" y="309.92" width="6.67" height="7.11" fill="#782281"/><rect x="645.38" y="309.92" width="6.67" height="7.11" fill="#9e2f7f"/><rect x="651.71" y="309.92" width="6.67" height="7.11" fill="#b3367a"/><rect x="658.03" y="309.92" width="6.67" height="7.11" fill="#d9466b"/><rect x="664.35" y="309.92" width="6.67" height="7.11" fill="#a6317d"/><rect x="670.68" y="309.92" width="6.67" height="7.11" fill="#6e1e81"/><rect x="354.50" y="316.68" width="6.67" height="7.11" fill="#36106b"/><rect x="360.82" y="316.68" width="6.67" height="7.11" fill="#6d1d81"/><rect x="367.15" y="316.68" width="6.67" height="7.11" fill="#eb5760"/><rect x="373.47" y="316.68" width="6.67" height="7.11" fill="#feca8d"/><rect x="379.79" y="316.68" width="6.67" height="7.11" fill="#fb835f"/><rect x="386.12" y="316.68" width="6.67" height="7.11" fill="#c53c74"/><rect x="392.44" y="316.68" width="6.67" height="7.11" fill="#2f1163"/><rect x="398.76" y="316.68" width="6.67" height="7.11" fill="#471078"/><rect x="405.09" y="316.68" width="6.67" height="7.11" fill="#5c167f"/><rect x="411.41" y="316.68" width="6.67" height="7.11" fill="#fb8560"/><rect x="417.74" y="316.68" width="6.67" height="7.11" fill="#fec68a"/><rect x="424.06" y="316.68" width="6.67" height="7.11" fill="#ea5661"/><rect x="430.38" y="316.68" width="6.67" height="7.11" fill="#792282"/><rect x="436.71" y="316.68" width="6.67" height="7.11" fill="#29115a"/><rect x="443.03" y="316.68" width="6.67" height="7.11" fill="#491078"/><rect x="449.35" y="316.68" width="6.67" height="7.11" fill="#aa337d"/><rect x="455.68" y="316.68" width="6.67" height="7.11" fill="#fc8961"/><rect x="462.00" y="316.68" width="6.67" height="7.11" fill="#fea973"/><rect x="468.32" y="316.68" width="6.67" height="7.11" fill="#d9466b"/><rect x="474.65" y="316.68" width="6.67" height="7.11" fill="#4a1079"/><rect x="480.97" y="316.68" width="6.67" height="7.11" fill="#20114b"/><rect x="487.29" y="316.68" width="6.67" height="7.11" fill="#681c81"/><rect x="493.62" y="316.68" width="6.67" height="7.11" fill="#eb5760"/><rect x="499.94" y="316.68" width="6.67" height="7.11" fill="#f7725c"/><rect x="506.26" y="316.68" width="6.67" height="7.11" fill="#de4968"/><rect x="512.59" y="316.68" width="6.67" height="7.11" fill="#8e2a81"/><rect x="518.91" y="316.68" width="6.67" height="7.11" fill="#1c1044"/><rect x="525.24" y="316.68" width="6.67" height="7.11" fill="#271258"/><rect x="531.56" y="316.68" width="6.67" height="7.11" fill="#8e2a81"/><rect x="537.88" y="316.68" width="6.67" height="7.11" fill="#f2625d"/><rect x="544.21" y="316.68" width="6.67" height="7.11" fill="#ef5d5e"/><rect x="550.53" y="316.68" width="6.67" height="7.11" fill="#db476a"/><rect x="556.85" y="316.68" width="6.67" height="7.11" fill="#400f74"/><rect x="563.18" y="316.68" width="6.67" height="7.11" fill="#390f6e"/><rect x="569.50" y="316.68" width="6.67" height="7.11" fill="#311165"/><rect x="575.82" y="316.68" width="6.67" height="7.11" fill="#942c80"/><rect x="582.15" y="316.68" width="6.67" height="7.11" fill="#f66c5c"/><rect x="588.47" y="316.68" width="6.67" height="7.11" fill="#e44f64"/><rect x="594.79" y="316.68" width="6.67" height="7.11" fill="#8e2a81"/><rect x="601.12" y="316.68" width="6.67" height="7.11" fill="#440f76"/><rect x="607.44" y="316.68" width="6.67" height="7.11" fill="#440f76"/><rect x="613.76" y="316.68" width="6.67" height="7.11" fill="#721f81"/><rect x="620.09" y="316.68" width="6.67" height="7.11" fill="#c53c74"/><rect x="626.41" y="316.68" width="6.67" height="7.11" fill="#f4695c"/><rect x="632.74" y="316.68" width="6.67" height="7.11" fill="#bc3978"/><rect x="639.06" y="316.68" width="6.67" height="7.11" fill="#732081"/><rect x="645.38" y="316.68" width="6.67" height="7.11" fill="#390f6e"/><rect x="651.71" y="316.68" width="6.67" height="7.11" fill="#681c81"/><rect x="658.03" y="316.68" width="6.67" height="7.11" fill="#a3307e"/><rect x="664.35" y="316.68" width="6.67" height="7.11" fill="#e55064"/><rect x="670.68" y="316.68" width="6.67" height="7.11" fill="#d6456c"/><rect x="354.50" y="323.44" width="6.67" height="7.11" fill="#221150"/><rect x="360.82" y="323.44" width="6.67" height="7.11" fill="#671b80"/><rect x="367.15" y="323.44" width="6.67" height="7.11" fill="#db476a"/><rect x="373.47" y="323.44" width="6.67" height="7.11" fill="#fed89a"/><rect x="379.79" y="323.44" width="6.67" height="7.11" fill="#feca8d"/><rect x="386.12" y="323.44" width="6.67" height="7.11" fill="#bf3a77"/><rect x="392.44" y="323.44" width="6.67" height="7.11" fill="#420f75"/><rect x="398.76" y="323.44" width="6.67" height="7.11" fill="#140e36"/><rect x="405.09" y="323.44" width="6.67" height="7.11" fill="#832681"/><rect x="411.41" y="323.44" width="6.67" height="7.11" fill="#fc8c63"/><rect x="417.74" y="323.44" width="6.67" height="7.11" fill="#febb81"/><rect x="424.06" y="323.44" width="6.67" height="7.11" fill="#fea16e"/><rect x="430.38" y="323.44" width="6.67" height="7.11" fill="#882781"/><rect x="436.71" y="323.44" width="6.67" height="7.11" fill="#3f0f72"/><rect x="443.03" y="323.44" width="6.67" height="7.11" fill="#1a1042"/><rect x="449.35" y="323.44" width="6.67" height="7.11" fill="#57157e"/><rect x="455.68" y="323.44" width="6.67" height="7.11" fill="#f4695c"/><rect x="462.00" y="323.44" width="6.67" height="7.11" fill="#fc8c63"/><rect x="468.32" y="323.44" width="6.67" height="7.11" fill="#fb835f"/><rect x="474.65" y="323.44" width="6.67" height="7.11" fill="#a6317d"/><rect x="480.97" y="323.44" width="6.67" height="7.11" fill="#1a1042"/><rect x="487.29" y="323.44" width="6.67" height="7.11" fill="#331067"/><rect x="493.62" y="323.44" width="6.67" height="7.11" fill="#8e2a81"/><rect x="499.94" y="323.44" width="6.67" height="7.11" fill="#d8456c"/><rect x="506.26" y="323.44" width="6.67" height="7.11" fill="#fa815f"/><rect x="512.59" y="323.44" width="6.67" height="7.11" fill="#f97b5d"/><rect x="518.91" y="323.44" width="6.67" height="7.11" fill="#912b81"/><rect x="525.24" y="323.44" width="6.67" height="7.11" fill="#180f3d"/><rect x="531.56" y="323.44" width="6.67" height="7.11" fill="#241253"/><rect x="537.88" y="323.44" width="6.67" height="7.11" fill="#812581"/><rect x="544.21" y="323.44" width="6.67" height="7.11" fill="#ec5860"/><rect x="550.53" y="323.44" width="6.67" height="7.11" fill="#fea571"/><rect x="556.85" y="323.44" width="6.67" height="7.11" fill="#f05f5e"/><rect x="563.18" y="323.44" width="6.67" height="7.11" fill="#a6317d"/><rect x="569.50" y="323.44" width="6.67" height="7.11" fill="#4c117a"/><rect x="575.82" y="323.44" width="6.67" height="7.11" fill="#440f76"/><rect x="582.15" y="323.44" width="6.67" height="7.11" fill="#a3307e"/><rect x="588.47" y="323.44" width="6.67" height="7.11" fill="#f8765c"/><rect x="594.79" y="323.44" width="6.67" height="7.11" fill="#fc8e64"/><rect x="601.12" y="323.44" width="6.67" height="7.11" fill="#c23b75"/><rect x="607.44" y="323.44" width="6.67" height="7.11" fill="#882781"/><rect x="613.76" y="323.44" width="6.67" height="7.11" fill="#331067"/><rect x="620.09" y="323.44" width="6.67" height="7.11" fill="#641a80"/><rect x="626.41" y="323.44" width="6.67" height="7.11" fill="#982d80"/><rect x="632.74" y="323.44" width="6.67" height="7.11" fill="#ef5d5e"/><rect x="639.06" y="323.44" width="6.67" height="7.11" fill="#f7705c"/><rect x="645.38" y="323.44" width="6.67" height="7.11" fill="#e75263"/><rect x="651.71" y="323.44" width="6.67" height="7.11" fill="#701f81"/><rect x="658.03" y="323.44" width="6.67" height="7.11" fill="#2f1163"/><rect x="664.35" y="323.44" width="6.67" height="7.11" fill="#54137d"/><rect x="670.68" y="323.44" width="6.67" height="7.11" fill="#912b81"/><rect x="354.50" y="330.20" width="6.67" height="7.11" fill="#29115a"/><rect x="360.82" y="330.20" width="6.67" height="7.11" fill="#54137d"/><rect x="367.15" y="330.20" width="6.67" height="7.11" fill="#e75263"/><rect x="373.47" y="330.20" width="6.67" height="7.11" fill="#fcf9bb"/><rect x="379.79" y="330.20" width="6.67" height="7.11" fill="#fec68a"/><rect x="386.12" y="330.20" width="6.67" height="7.11" fill="#e85362"/><rect x="392.44" y="330.20" width="6.67" height="7.11" fill="#57157e"/><rect x="398.76" y="330.20" width="6.67" height="7.11" fill="#20114b"/><rect x="405.09" y="330.20" width="6.67" height="7.11" fill="#2d1161"/><rect x="411.41" y="330.20" width="6.67" height="7.11" fill="#c03a76"/><rect x="417.74" y="330.20" width="6.67" height="7.11" fill="#feb67c"/><rect x="424.06" y="330.20" width="6.67" height="7.11" fill="#fed799"/><rect x="430.38" y="330.20" width="6.67" height="7.11" fill="#eb5760"/><rect x="436.71" y="330.20" width="6.67" height="7.11" fill="#5c167f"/><rect x="443.03" y="330.20" width="6.67" height="7.11" fill="#0b0924"/><rect x="449.35" y="330.20" width="6.67" height="7.11" fill="#471078"/><rect x="455.68" y="330.20" width="6.67" height="7.11" fill="#d6456c"/><rect x="462.00" y="330.20" width="6.67" height="7.11" fill="#fea973"/><rect x="468.32" y="330.20" width="6.67" height="7.11" fill="#fec488"/><rect x="474.65" y="330.20" width="6.67" height="7.11" fill="#f4675c"/><rect x="480.97" y="330.20" width="6.67" height="7.11" fill="#5d177f"/><rect x="487.29" y="330.20" width="6.67" height="7.11" fill="#160f3b"/><rect x="493.62" y="330.20" width="6.67" height="7.11" fill="#2d1161"/><rect x="499.94" y="330.20" width="6.67" height="7.11" fill="#ab337c"/><rect x="506.26" y="330.20" width="6.67" height="7.11" fill="#fc8961"/><rect x="512.59" y="330.20" width="6.67" height="7.11" fill="#fd9869"/><rect x="518.91" y="330.20" width="6.67" height="7.11" fill="#f97b5d"/><rect x="525.24" y="330.20" width="6.67" height="7.11" fill="#9e2f7f"/><rect x="531.56" y="330.20" width="6.67" height="7.11" fill="#1d1147"/><rect x="537.88" y="330.20" width="6.67" height="7.11" fill="#36106b"/><rect x="544.21" y="330.20" width="6.67" height="7.11" fill="#992d80"/><rect x="550.53" y="330.20" width="6.67" height="7.11" fill="#fb8560"/><rect x="556.85" y="330.20" width="6.67" height="7.11" fill="#fb835f"/><rect x="563.18" y="330.20" width="6.67" height="7.11" fill="#fc8961"/><rect x="569.50" y="330.20" width="6.67" height="7.11" fill="#7b2382"/><rect x="575.82" y="330.20" width="6.67" height="7.11" fill="#440f76"/><rect x="582.15" y="330.20" width="6.67" height="7.11" fill="#2a115c"/><rect x="588.47" y="330.20" width="6.67" height="7.11" fill="#7c2382"/><rect x="594.79" y="330.20" width="6.67" height="7.11" fill="#ec5860"/><rect x="601.12" y="330.20" width="6.67" height="7.11" fill="#feac76"/><rect x="607.44" y="330.20" width="6.67" height="7.11" fill="#e75263"/><rect x="613.76" y="330.20" width="6.67" height="7.11" fill="#862781"/><rect x="620.09" y="330.20" width="6.67" height="7.11" fill="#271258"/><rect x="626.41" y="330.20" width="6.67" height="7.11" fill="#0c0926"/><rect x="632.74" y="330.20" width="6.67" height="7.11" fill="#912b81"/><rect x="639.06" y="330.20" width="6.67" height="7.11" fill="#e95462"/><rect x="645.38" y="330.20" width="6.67" height="7.11" fill="#fb8560"/><rect x="651.71" y="330.20" width="6.67" height="7.11" fill="#f9795d"/><rect x="658.03" y="330.20" width="6.67" height="7.11" fill="#812581"/><rect x="664.35" y="330.20" width="6.67" height="7.11" fill="#390f6e"/><rect x="670.68" y="330.20" width="6.67" height="7.11" fill="#4e117b"/><rect x="354.50" y="336.96" width="6.67" height="7.11" fill="#390f6e"/><rect x="360.82" y="336.96" width="6.67" height="7.11" fill="#241253"/><rect x="367.15" y="336.96" width="6.67" height="7.11" fill="#9e2f7f"/><rect x="373.47" y="336.96" width="6.67" height="7.11" fill="#feb97f"/><rect x="379.79" y="336.96" width="6.67" height="7.11" fill="#fcf7b9"/><rect x="386.12" y="336.96" width="6.67" height="7.11" fill="#ee5b5e"/><rect x="392.44" y="336.96" width="6.67" height="7.11" fill="#671b80"/><rect x="398.76" y="336.96" width="6.67" height="7.11" fill="#21114e"/><rect x="405.09" y="336.96" width="6.67" height="7.11" fill="#241253"/><rect x="411.41" y="336.96" width="6.67" height="7.11" fill="#bd3977"/><rect x="417.74" y="336.96" width="6.67" height="7.11" fill="#febf84"/><rect x="424.06" y="336.96" width="6.67" height="7.11" fill="#fde7a9"/><rect x="430.38" y="336.96" width="6.67" height="7.11" fill="#fc8a62"/><rect x="436.71" y="336.96" width="6.67" height="7.11" fill="#7b2382"/><rect x="443.03" y="336.96" width="6.67" height="7.11" fill="#29115a"/><rect x="449.35" y="336.96" width="6.67" height="7.11" fill="#1c1044"/><rect x="455.68" y="336.96" width="6.67" height="7.11" fill="#ad347c"/><rect x="462.00" y="336.96" width="6.67" height="7.11" fill="#fec185"/><rect x="468.32" y="336.96" width="6.67" height="7.11" fill="#febf84"/><rect x="474.65" y="336.96" width="6.67" height="7.11" fill="#f2625d"/><rect x="480.97" y="336.96" width="6.67" height="7.11" fill="#9c2e7f"/><rect x="487.29" y="336.96" width="6.67" height="7.11" fill="#38106c"/><rect x="493.62" y="336.96" width="6.67" height="7.11" fill="#2d1161"/><rect x="499.94" y="336.96" width="6.67" height="7.11" fill="#842681"/><rect x="506.26" y="336.96" width="6.67" height="7.11" fill="#e24d66"/><rect x="512.59" y="336.96" width="6.67" height="7.11" fill="#feaa74"/><rect x="518.91" y="336.96" width="6.67" height="7.11" fill="#fec185"/><rect x="525.24" y="336.96" width="6.67" height="7.11" fill="#ab337c"/><rect x="531.56" y="336.96" width="6.67" height="7.11" fill="#5c167f"/><rect x="537.88" y="336.96" width="6.67" height="7.11" fill="#130d34"/><rect x="544.21" y="336.96" width="6.67" height="7.11" fill="#601880"/><rect x="550.53" y="336.96" width="6.67" height="7.11" fill="#dc4869"/><rect x="556.85" y="336.96" width="6.67" height="7.11" fill="#feb67c"/><rect x="563.18" y="336.96" width="6.67" height="7.11" fill="#febb81"/><rect x="569.50" y="336.96" width="6.67" height="7.11" fill="#c73d73"/><rect x="575.82" y="336.96" width="6.67" height="7.11" fill="#621980"/><rect x="582.15" y="336.96" width="6.67" height="7.11" fill="#180f3d"/><rect x="588.47" y="336.96" width="6.67" height="7.11" fill="#400f74"/><rect x="594.79" y="336.96" width="6.67" height="7.11" fill="#c43c75"/><rect x="601.12" y="336.96" width="6.67" height="7.11" fill="#f97b5d"/><rect x="607.44" y="336.96" width="6.67" height="7.11" fill="#fd9467"/><rect x="613.76" y="336.96" width="6.67" height="7.11" fill="#df4a68"/><rect x="620.09" y="336.96" width="6.67" height="7.11" fill="#6e1e81"/><rect x="626.41" y="336.96" width="6.67" height="7.11" fill="#2d1161"/><rect x="632.74" y="336.96" width="6.67" height="7.11" fill="#19103f"/><rect x="639.06" y="336.96" width="6.67" height="7.11" fill="#a02f7f"/><rect x="645.38" y="336.96" width="6.67" height="7.11" fill="#f4675c"/><rect x="651.71" y="336.96" width="6.67" height="7.11" fill="#fd9668"/><rect x="658.03" y="336.96" width="6.67" height="7.11" fill="#e24d66"/><rect x="664.35" y="336.96" width="6.67" height="7.11" fill="#932b80"/><rect x="670.68" y="336.96" width="6.67" height="7.11" fill="#3b0f70"/><rect x="354.50" y="343.72" width="6.67" height="7.11" fill="#090720"/><rect x="360.82" y="343.72" width="6.67" height="7.11" fill="#6b1d81"/><rect x="367.15" y="343.72" width="6.67" height="7.11" fill="#f66c5c"/><rect x="373.47" y="343.72" width="6.67" height="7.11" fill="#fdda9c"/><rect x="379.79" y="343.72" width="6.67" height="7.11" fill="#fceeb0"/><rect x="386.12" y="343.72" width="6.67" height="7.11" fill="#fea772"/><rect x="392.44" y="343.72" width="6.67" height="7.11" fill="#892881"/><rect x="398.76" y="343.72" width="6.67" height="7.11" fill="#0b0924"/><rect x="405.09" y="343.72" width="6.67" height="7.11" fill="#331067"/><rect x="411.41" y="343.72" width="6.67" height="7.11" fill="#ae347b"/><rect x="417.74" y="343.72" width="6.67" height="7.11" fill="#fea571"/><rect x="424.06" y="343.72" width="6.67" height="7.11" fill="#fea973"/><rect x="430.38" y="343.72" width="6.67" height="7.11" fill="#fea16e"/><rect x="436.71" y="343.72" width="6.67" height="7.11" fill="#882781"/><rect x="443.03" y="343.72" width="6.67" height="7.11" fill="#271258"/><rect x="449.35" y="343.72" width="6.67" height="7.11" fill="#1c1044"/><rect x="455.68" y="343.72" width="6.67" height="7.11" fill="#962c80"/><rect x="462.00" y="343.72" width="6.67" height="7.11" fill="#f7705c"/><rect x="468.32" y="343.72" width="6.67" height="7.11" fill="#febf84"/><rect x="474.65" y="343.72" width="6.67" height="7.11" fill="#feb47b"/><rect x="480.97" y="343.72" width="6.67" height="7.11" fill="#d6456c"/><rect x="487.29" y="343.72" width="6.67" height="7.11" fill="#341069"/><rect x="493.62" y="343.72" width="6.67" height="7.11" fill="#2f1163"/><rect x="499.94" y="343.72" width="6.67" height="7.11" fill="#621980"/><rect x="506.26" y="343.72" width="6.67" height="7.11" fill="#d6456c"/><rect x="512.59" y="343.72" width="6.67" height="7.11" fill="#fddc9e"/><rect x="518.91" y="343.72" width="6.67" height="7.11" fill="#fea16e"/><rect x="525.24" y="343.72" width="6.67" height="7.11" fill="#eb5760"/><rect x="531.56" y="343.72" width="6.67" height="7.11" fill="#4e117b"/><rect x="537.88" y="343.72" width="6.67" height="7.11" fill="#1c1044"/><rect x="544.21" y="343.72" width="6.67" height="7.11" fill="#221150"/><rect x="550.53" y="343.72" width="6.67" height="7.11" fill="#a3307e"/><rect x="556.85" y="343.72" width="6.67" height="7.11" fill="#feb078"/><rect x="563.18" y="343.72" width="6.67" height="7.11" fill="#febb81"/><rect x="569.50" y="343.72" width="6.67" height="7.11" fill="#f05f5e"/><rect x="575.82" y="343.72" width="6.67" height="7.11" fill="#6d1d81"/><rect x="582.15" y="343.72" width="6.67" height="7.11" fill="#241253"/><rect x="588.47" y="343.72" width="6.67" height="7.11" fill="#0d0a29"/><rect x="594.79" y="343.72" width="6.67" height="7.11" fill="#732081"/><rect x="601.12" y="343.72" width="6.67" height="7.11" fill="#f4695c"/><rect x="607.44" y="343.72" width="6.67" height="7.11" fill="#fd9b6b"/><rect x="613.76" y="343.72" width="6.67" height="7.11" fill="#f4675c"/><rect x="620.09" y="343.72" width="6.67" height="7.11" fill="#942c80"/><rect x="626.41" y="343.72" width="6.67" height="7.11" fill="#29115a"/><rect x="632.74" y="343.72" width="6.67" height="7.11" fill="#140e36"/><rect x="639.06" y="343.72" width="6.67" height="7.11" fill="#862781"/><rect x="645.38" y="343.72" width="6.67" height="7.11" fill="#ed5a5f"/><rect x="651.71" y="343.72" width="6.67" height="7.11" fill="#febb81"/><rect x="658.03" y="343.72" width="6.67" height="7.11" fill="#fb8761"/><rect x="664.35" y="343.72" width="6.67" height="7.11" fill="#ab337c"/><rect x="670.68" y="343.72" width="6.67" height="7.11" fill="#241253"/><rect x="354.50" y="350.48" width="6.67" height="7.11" fill="#1e1149"/><rect x="360.82" y="350.48" width="6.67" height="7.11" fill="#271258"/><rect x="367.15" y="350.48" width="6.67" height="7.11" fill="#d6456c"/><rect x="373.47" y="350.48" width="6.67" height="7.11" fill="#fde3a5"/><rect x="379.79" y="350.48" width="6.67" height="7.11" fill="#fcfdbf"/><rect x="386.12" y="350.48" width="6.67" height="7.11" fill="#f97b5d"/><rect x="392.44" y="350.48" width="6.67" height="7.11" fill="#5a167e"/><rect x="398.76" y="350.48" width="6.67" height="7.11" fill="#20114b"/><rect x="405.09" y="350.48" width="6.67" height="7.11" fill="#271258"/><rect x="411.41" y="350.48" width="6.67" height="7.11" fill="#ca3e72"/><rect x="417.74" y="350.48" width="6.67" height="7.11" fill="#feaa74"/><rect x="424.06" y="350.48" width="6.67" height="7.11" fill="#fcf0b2"/><rect x="430.38" y="350.48" width="6.67" height="7.11" fill="#febf84"/><rect x="436.71" y="350.48" width="6.67" height="7.11" fill="#9b2e7f"/><rect x="443.03" y="350.48" width="6.67" height="7.11" fill="#51127c"/><rect x="449.35" y="350.48" width="6.67" height="7.11" fill="#271258"/><rect x="455.68" y="350.48" width="6.67" height="7.11" fill="#8b2981"/><rect x="462.00" y="350.48" width="6.67" height="7.11" fill="#fea36f"/><rect x="468.32" y="350.48" width="6.67" height="7.11" fill="#fcf7b9"/><rect x="474.65" y="350.48" width="6.67" height="7.11" fill="#fc8961"/><rect x="480.97" y="350.48" width="6.67" height="7.11" fill="#a6317d"/><rect x="487.29" y="350.48" width="6.67" height="7.11" fill="#150e38"/><rect x="493.62" y="350.48" width="6.67" height="7.11" fill="#160f3b"/><rect x="499.94" y="350.48" width="6.67" height="7.11" fill="#802582"/><rect x="506.26" y="350.48" width="6.67" height="7.11" fill="#ec5860"/><rect x="512.59" y="350.48" width="6.67" height="7.11" fill="#feae77"/><rect x="518.91" y="350.48" width="6.67" height="7.11" fill="#fa815f"/><rect x="525.24" y="350.48" width="6.67" height="7.11" fill="#ca3e72"/><rect x="531.56" y="350.48" width="6.67" height="7.11" fill="#56147d"/><rect x="537.88" y="350.48" width="6.67" height="7.11" fill="#20114b"/><rect x="544.21" y="350.48" width="6.67" height="7.11" fill="#57157e"/><rect x="550.53" y="350.48" width="6.67" height="7.11" fill="#b3367a"/><rect x="556.85" y="350.48" width="6.67" height="7.11" fill="#fecc8f"/><rect x="563.18" y="350.48" width="6.67" height="7.11" fill="#fea772"/><rect x="569.50" y="350.48" width="6.67" height="7.11" fill="#d6456c"/><rect x="575.82" y="350.48" width="6.67" height="7.11" fill="#6b1d81"/><rect x="582.15" y="350.48" width="6.67" height="7.11" fill="#000004"/><rect x="588.47" y="350.48" width="6.67" height="7.11" fill="#38106c"/><rect x="594.79" y="350.48" width="6.67" height="7.11" fill="#a6317d"/><rect x="601.12" y="350.48" width="6.67" height="7.11" fill="#fc8c63"/><rect x="607.44" y="350.48" width="6.67" height="7.11" fill="#fec68a"/><rect x="613.76" y="350.48" width="6.67" height="7.11" fill="#f05f5e"/><rect x="620.09" y="350.48" width="6.67" height="7.11" fill="#51127c"/><rect x="626.41" y="350.48" width="6.67" height="7.11" fill="#19103f"/><rect x="632.74" y="350.48" width="6.67" height="7.11" fill="#2c115f"/><rect x="639.06" y="350.48" width="6.67" height="7.11" fill="#8b2981"/><rect x="645.38" y="350.48" width="6.67" height="7.11" fill="#df4a68"/><rect x="651.71" y="350.48" width="6.67" height="7.11" fill="#f8745c"/><rect x="658.03" y="350.48" width="6.67" height="7.11" fill="#f7725c"/><rect x="664.35" y="350.48" width="6.67" height="7.11" fill="#942c80"/><rect x="670.68" y="350.48" width="6.67" height="7.11" fill="#2c115f"/><rect x="354.50" y="357.24" width="6.67" height="7.11" fill="#0a0822"/><rect x="360.82" y="357.24" width="6.67" height="7.11" fill="#782281"/><rect x="367.15" y="357.24" width="6.67" height="7.11" fill="#a8327d"/><rect x="373.47" y="357.24" width="6.67" height="7.11" fill="#fec488"/><rect x="379.79" y="357.24" width="6.67" height="7.11" fill="#fcfdbf"/><rect x="386.12" y="357.24" width="6.67" height="7.11" fill="#e55064"/><rect x="392.44" y="357.24" width="6.67" height="7.11" fill="#601880"/><rect x="398.76" y="357.24" width="6.67" height="7.11" fill="#060518"/><rect x="405.09" y="357.24" width="6.67" height="7.11" fill="#621980"/><rect x="411.41" y="357.24" width="6.67" height="7.11" fill="#b3367a"/><rect x="417.74" y="357.24" width="6.67" height="7.11" fill="#febd82"/><rect x="424.06" y="357.24" width="6.67" height="7.11" fill="#fecc8f"/><rect x="430.38" y="357.24" width="6.67" height="7.11" fill="#dc4869"/><rect x="436.71" y="357.24" width="6.67" height="7.11" fill="#782281"/><rect x="443.03" y="357.24" width="6.67" height="7.11" fill="#050416"/><rect x="449.35" y="357.24" width="6.67" height="7.11" fill="#2c115f"/><rect x="455.68" y="357.24" width="6.67" height="7.11" fill="#b83779"/><rect x="462.00" y="357.24" width="6.67" height="7.11" fill="#fd9668"/><rect x="468.32" y="357.24" width="6.67" height="7.11" fill="#feca8d"/><rect x="474.65" y="357.24" width="6.67" height="7.11" fill="#f7725c"/><rect x="480.97" y="357.24" width="6.67" height="7.11" fill="#6b1d81"/><rect x="487.29" y="357.24" width="6.67" height="7.11" fill="#130d34"/><rect x="493.62" y="357.24" width="6.67" height="7.11" fill="#271258"/><rect x="499.94" y="357.24" width="6.67" height="7.11" fill="#9e2f7f"/><rect x="506.26" y="357.24" width="6.67" height="7.11" fill="#fd9b6b"/><rect x="512.59" y="357.24" width="6.67" height="7.11" fill="#feae77"/><rect x="518.91" y="357.24" width="6.67" height="7.11" fill="#f56b5c"/><rect x="525.24" y="357.24" width="6.67" height="7.11" fill="#792282"/><rect x="531.56" y="357.24" width="6.67" height="7.11" fill="#130d34"/><rect x="537.88" y="357.24" width="6.67" height="7.11" fill="#400f74"/><rect x="544.21" y="357.24" width="6.67" height="7.11" fill="#7e2482"/><rect x="550.53" y="357.24" width="6.67" height="7.11" fill="#f7725c"/><rect x="556.85" y="357.24" width="6.67" height="7.11" fill="#feca8d"/><rect x="563.18" y="357.24" width="6.67" height="7.11" fill="#e34e65"/><rect x="569.50" y="357.24" width="6.67" height="7.11" fill="#832681"/><rect x="575.82" y="357.24" width="6.67" height="7.11" fill="#0e0b2b"/><rect x="582.15" y="357.24" width="6.67" height="7.11" fill="#20114b"/><rect x="588.47" y="357.24" width="6.67" height="7.11" fill="#671b80"/><rect x="594.79" y="357.24" width="6.67" height="7.11" fill="#e95462"/><rect x="601.12" y="357.24" width="6.67" height="7.11" fill="#fc8a62"/><rect x="607.44" y="357.24" width="6.67" height="7.11" fill="#f2645c"/><rect x="613.76" y="357.24" width="6.67" height="7.11" fill="#ae347b"/><rect x="620.09" y="357.24" width="6.67" height="7.11" fill="#38106c"/><rect x="626.41" y="357.24" width="6.67" height="7.11" fill="#36106b"/><rect x="632.74" y="357.24" width="6.67" height="7.11" fill="#762181"/><rect x="639.06" y="357.24" width="6.67" height="7.11" fill="#dc4869"/><rect x="645.38" y="357.24" width="6.67" height="7.11" fill="#f7725c"/><rect x="651.71" y="357.24" width="6.67" height="7.11" fill="#d3436e"/><rect x="658.03" y="357.24" width="6.67" height="7.11" fill="#982d80"/><rect x="664.35" y="357.24" width="6.67" height="7.11" fill="#5d177f"/><rect x="670.68" y="357.24" width="6.67" height="7.11" fill="#331067"/><rect x="354.50" y="364.00" width="6.67" height="7.11" fill="#1c1044"/><rect x="360.82" y="364.00" width="6.67" height="7.11" fill="#762181"/><rect x="367.15" y="364.00" width="6.67" height="7.11" fill="#db476a"/><rect x="373.47" y="364.00" width="6.67" height="7.11" fill="#feb67c"/><rect x="379.79" y="364.00" width="6.67" height="7.11" fill="#fd9b6b"/><rect x="386.12" y="364.00" width="6.67" height="7.11" fill="#ba3878"/><rect x="392.44" y="364.00" width="6.67" height="7.11" fill="#3f0f72"/><rect x="398.76" y="364.00" width="6.67" height="7.11" fill="#3d0f71"/><rect x="405.09" y="364.00" width="6.67" height="7.11" fill="#5c167f"/><rect x="411.41" y="364.00" width="6.67" height="7.11" fill="#d6456c"/><rect x="417.74" y="364.00" width="6.67" height="7.11" fill="#feae77"/><rect x="424.06" y="364.00" width="6.67" height="7.11" fill="#fd9b6b"/><rect x="430.38" y="364.00" width="6.67" height="7.11" fill="#932b80"/><rect x="436.71" y="364.00" width="6.67" height="7.11" fill="#3d0f71"/><rect x="443.03" y="364.00" width="6.67" height="7.11" fill="#271258"/><rect x="449.35" y="364.00" width="6.67" height="7.11" fill="#732081"/><rect x="455.68" y="364.00" width="6.67" height="7.11" fill="#f2645c"/><rect x="462.00" y="364.00" width="6.67" height="7.11" fill="#fd9266"/><rect x="468.32" y="364.00" width="6.67" height="7.11" fill="#f1605d"/><rect x="474.65" y="364.00" width="6.67" height="7.11" fill="#bd3977"/><rect x="480.97" y="364.00" width="6.67" height="7.11" fill="#4a1079"/><rect x="487.29" y="364.00" width="6.67" height="7.11" fill="#090720"/><rect x="493.62" y="364.00" width="6.67" height="7.11" fill="#7c2382"/><rect x="499.94" y="364.00" width="6.67" height="7.11" fill="#ee5b5e"/><rect x="506.26" y="364.00" width="6.67" height="7.11" fill="#feb078"/><rect x="512.59" y="364.00" width="6.67" height="7.11" fill="#f7725c"/><rect x="518.91" y="364.00" width="6.67" height="7.11" fill="#862781"/><rect x="525.24" y="364.00" width="6.67" height="7.11" fill="#331067"/><rect x="531.56" y="364.00" width="6.67" height="7.11" fill="#2d1161"/><rect x="537.88" y="364.00" width="6.67" height="7.11" fill="#832681"/><rect x="544.21" y="364.00" width="6.67" height="7.11" fill="#cf4070"/><rect x="550.53" y="364.00" width="6.67" height="7.11" fill="#e44f64"/><rect x="556.85" y="364.00" width="6.67" height="7.11" fill="#df4a68"/><rect x="563.18" y="364.00" width="6.67" height="7.11" fill="#621980"/><rect x="569.50" y="364.00" width="6.67" height="7.11" fill="#341069"/><rect x="575.82" y="364.00" width="6.67" height="7.11" fill="#451077"/><rect x="582.15" y="364.00" width="6.67" height="7.11" fill="#932b80"/><rect x="588.47" y="364.00" width="6.67" height="7.11" fill="#e75263"/><rect x="594.79" y="364.00" width="6.67" height="7.11" fill="#fa7f5e"/><rect x="601.12" y="364.00" width="6.67" height="7.11" fill="#ed5a5f"/><rect x="607.44" y="364.00" width="6.67" height="7.11" fill="#671b80"/><rect x="613.76" y="364.00" width="6.67" height="7.11" fill="#451077"/><rect x="620.09" y="364.00" width="6.67" height="7.11" fill="#51127c"/><rect x="626.41" y="364.00" width="6.67" height="7.11" fill="#9b2e7f"/><rect x="632.74" y="364.00" width="6.67" height="7.11" fill="#f7725c"/><rect x="639.06" y="364.00" width="6.67" height="7.11" fill="#ed5a5f"/><rect x="645.38" y="364.00" width="6.67" height="7.11" fill="#db476a"/><rect x="651.71" y="364.00" width="6.67" height="7.11" fill="#5a167e"/><rect x="658.03" y="364.00" width="6.67" height="7.11" fill="#251255"/><rect x="664.35" y="364.00" width="6.67" height="7.11" fill="#36106b"/><rect x="670.68" y="364.00" width="6.67" height="7.11" fill="#a5317e"/><rect x="354.50" y="370.76" width="6.67" height="7.11" fill="#150e38"/><rect x="360.82" y="370.76" width="6.67" height="7.11" fill="#57157e"/><rect x="367.15" y="370.76" width="6.67" height="7.11" fill="#cd4071"/><rect x="373.47" y="370.76" width="6.67" height="7.11" fill="#fed194"/><rect x="379.79" y="370.76" width="6.67" height="7.11" fill="#fec287"/><rect x="386.12" y="370.76" width="6.67" height="7.11" fill="#ab337c"/><rect x="392.44" y="370.76" width="6.67" height="7.11" fill="#4f127b"/><rect x="398.76" y="370.76" width="6.67" height="7.11" fill="#29115a"/><rect x="405.09" y="370.76" width="6.67" height="7.11" fill="#b2357b"/><rect x="411.41" y="370.76" width="6.67" height="7.11" fill="#f8765c"/><rect x="417.74" y="370.76" width="6.67" height="7.11" fill="#fc8a62"/><rect x="424.06" y="370.76" width="6.67" height="7.11" fill="#fa7f5e"/><rect x="430.38" y="370.76" width="6.67" height="7.11" fill="#6d1d81"/><rect x="436.71" y="370.76" width="6.67" height="7.11" fill="#0b0924"/><rect x="443.03" y="370.76" width="6.67" height="7.11" fill="#2d1161"/><rect x="449.35" y="370.76" width="6.67" height="7.11" fill="#932b80"/><rect x="455.68" y="370.76" width="6.67" height="7.11" fill="#fb8761"/><rect x="462.00" y="370.76" width="6.67" height="7.11" fill="#f8765c"/><rect x="468.32" y="370.76" width="6.67" height="7.11" fill="#dc4869"/><rect x="474.65" y="370.76" width="6.67" height="7.11" fill="#56147d"/><rect x="480.97" y="370.76" width="6.67" height="7.11" fill="#06051a"/><rect x="487.29" y="370.76" width="6.67" height="7.11" fill="#451077"/><rect x="493.62" y="370.76" width="6.67" height="7.11" fill="#cf4070"/><rect x="499.94" y="370.76" width="6.67" height="7.11" fill="#f05f5e"/><rect x="506.26" y="370.76" width="6.67" height="7.11" fill="#f05f5e"/><rect x="512.59" y="370.76" width="6.67" height="7.11" fill="#8b2981"/><rect x="518.91" y="370.76" width="6.67" height="7.11" fill="#21114e"/><rect x="525.24" y="370.76" width="6.67" height="7.11" fill="#271258"/><rect x="531.56" y="370.76" width="6.67" height="7.11" fill="#982d80"/><rect x="537.88" y="370.76" width="6.67" height="7.11" fill="#f9785d"/><rect x="544.21" y="370.76" width="6.67" height="7.11" fill="#fd9a6a"/><rect x="550.53" y="370.76" width="6.67" height="7.11" fill="#cc3f71"/><rect x="556.85" y="370.76" width="6.67" height="7.11" fill="#762181"/><rect x="563.18" y="370.76" width="6.67" height="7.11" fill="#20114b"/><rect x="569.50" y="370.76" width="6.67" height="7.11" fill="#5c167f"/><rect x="575.82" y="370.76" width="6.67" height="7.11" fill="#9c2e7f"/><rect x="582.15" y="370.76" width="6.67" height="7.11" fill="#f66e5c"/><rect x="588.47" y="370.76" width="6.67" height="7.11" fill="#d5446d"/><rect x="594.79" y="370.76" width="6.67" height="7.11" fill="#8b2981"/><rect x="601.12" y="370.76" width="6.67" height="7.11" fill="#4e117b"/><rect x="607.44" y="370.76" width="6.67" height="7.11" fill="#471078"/><rect x="613.76" y="370.76" width="6.67" height="7.11" fill="#57157e"/><rect x="620.09" y="370.76" width="6.67" height="7.11" fill="#bc3978"/><rect x="626.41" y="370.76" width="6.67" height="7.11" fill="#eb5760"/><rect x="632.74" y="370.76" width="6.67" height="7.11" fill="#cf4070"/><rect x="639.06" y="370.76" width="6.67" height="7.11" fill="#6b1d81"/><rect x="645.38" y="370.76" width="6.67" height="7.11" fill="#471078"/><rect x="651.71" y="370.76" width="6.67" height="7.11" fill="#4a1079"/><rect x="658.03" y="370.76" width="6.67" height="7.11" fill="#ad347c"/><rect x="664.35" y="370.76" width="6.67" height="7.11" fill="#d9466b"/><rect x="670.68" y="370.76" width="6.67" height="7.11" fill="#bd3977"/><rect x="354.50" y="377.52" width="6.67" height="7.11" fill="#050416"/><rect x="360.82" y="377.52" width="6.67" height="7.11" fill="#5a167e"/><rect x="367.15" y="377.52" width="6.67" height="7.11" fill="#f2625d"/><rect x="373.47" y="377.52" width="6.67" height="7.11" fill="#feaa74"/><rect x="379.79" y="377.52" width="6.67" height="7.11" fill="#fa815f"/><rect x="386.12" y="377.52" width="6.67" height="7.11" fill="#732081"/><rect x="392.44" y="377.52" width="6.67" height="7.11" fill="#07061c"/><rect x="398.76" y="377.52" width="6.67" height="7.11" fill="#440f76"/><rect x="405.09" y="377.52" width="6.67" height="7.11" fill="#b3367a"/><rect x="411.41" y="377.52" width="6.67" height="7.11" fill="#fd9a6a"/><rect x="417.74" y="377.52" width="6.67" height="7.11" fill="#f2625d"/><rect x="424.06" y="377.52" width="6.67" height="7.11" fill="#ab337c"/><rect x="430.38" y="377.52" width="6.67" height="7.11" fill="#241253"/><rect x="436.71" y="377.52" width="6.67" height="7.11" fill="#311165"/><rect x="443.03" y="377.52" width="6.67" height="7.11" fill="#752181"/><rect x="449.35" y="377.52" width="6.67" height="7.11" fill="#e85362"/><rect x="455.68" y="377.52" width="6.67" height="7.11" fill="#f9785d"/><rect x="462.00" y="377.52" width="6.67" height="7.11" fill="#e34e65"/><rect x="468.32" y="377.52" width="6.67" height="7.11" fill="#54137d"/><rect x="474.65" y="377.52" width="6.67" height="7.11" fill="#130d34"/><rect x="480.97" y="377.52" width="6.67" height="7.11" fill="#471078"/><rect x="487.29" y="377.52" width="6.67" height="7.11" fill="#b83779"/><rect x="493.62" y="377.52" width="6.67" height="7.11" fill="#fd9869"/><rect x="499.94" y="377.52" width="6.67" height="7.11" fill="#bd3977"/><rect x="506.26" y="377.52" width="6.67" height="7.11" fill="#671b80"/><rect x="512.59" y="377.52" width="6.67" height="7.11" fill="#390f6e"/><rect x="518.91" y="377.52" width="6.67" height="7.11" fill="#5d177f"/><rect x="525.24" y="377.52" width="6.67" height="7.11" fill="#a02f7f"/><rect x="531.56" y="377.52" width="6.67" height="7.11" fill="#f56b5c"/><rect x="537.88" y="377.52" width="6.67" height="7.11" fill="#f2625d"/><rect x="544.21" y="377.52" width="6.67" height="7.11" fill="#ab337c"/><rect x="550.53" y="377.52" width="6.67" height="7.11" fill="#451077"/><rect x="556.85" y="377.52" width="6.67" height="7.11" fill="#5d177f"/><rect x="563.18" y="377.52" width="6.67" height="7.11" fill="#842681"/><rect x="569.50" y="377.52" width="6.67" height="7.11" fill="#ec5860"/><rect x="575.82" y="377.52" width="6.67" height="7.11" fill="#d0416f"/><rect x="582.15" y="377.52" width="6.67" height="7.11" fill="#c23b75"/><rect x="588.47" y="377.52" width="6.67" height="7.11" fill="#451077"/><rect x="594.79" y="377.52" width="6.67" height="7.11" fill="#20114b"/><rect x="601.12" y="377.52" width="6.67" height="7.11" fill="#721f81"/><rect x="607.44" y="377.52" width="6.67" height="7.11" fill="#a02f7f"/><rect x="613.76" y="377.52" width="6.67" height="7.11" fill="#e04c67"/><rect x="620.09" y="377.52" width="6.67" height="7.11" fill="#a5317e"/><rect x="626.41" y="377.52" width="6.67" height="7.11" fill="#982d80"/><rect x="632.74" y="377.52" width="6.67" height="7.11" fill="#4c117a"/><rect x="639.06" y="377.52" width="6.67" height="7.11" fill="#440f76"/><rect x="645.38" y="377.52" width="6.67" height="7.11" fill="#982d80"/><rect x="651.71" y="377.52" width="6.67" height="7.11" fill="#d5446d"/><rect x="658.03" y="377.52" width="6.67" height="7.11" fill="#ad347c"/><rect x="664.35" y="377.52" width="6.67" height="7.11" fill="#942c80"/><rect x="670.68" y="377.52" width="6.67" height="7.11" fill="#842681"/><rect x="354.50" y="384.28" width="6.67" height="7.11" fill="#390f6e"/><rect x="360.82" y="384.28" width="6.67" height="7.11" fill="#5a167e"/><rect x="367.15" y="384.28" width="6.67" height="7.11" fill="#d6456c"/><rect x="373.47" y="384.28" width="6.67" height="7.11" fill="#fe9f6d"/><rect x="379.79" y="384.28" width="6.67" height="7.11" fill="#bf3a77"/><rect x="386.12" y="384.28" width="6.67" height="7.11" fill="#19103f"/><rect x="392.44" y="384.28" width="6.67" height="7.11" fill="#0c0926"/><rect x="398.76" y="384.28" width="6.67" height="7.11" fill="#420f75"/><rect x="405.09" y="384.28" width="6.67" height="7.11" fill="#f3655c"/><rect x="411.41" y="384.28" width="6.67" height="7.11" fill="#fb8761"/><rect x="417.74" y="384.28" width="6.67" height="7.11" fill="#c43c75"/><rect x="424.06" y="384.28" width="6.67" height="7.11" fill="#400f74"/><rect x="430.38" y="384.28" width="6.67" height="7.11" fill="#241253"/><rect x="436.71" y="384.28" width="6.67" height="7.11" fill="#471078"/><rect x="443.03" y="384.28" width="6.67" height="7.11" fill="#c53c74"/><rect x="449.35" y="384.28" width="6.67" height="7.11" fill="#f7725c"/><rect x="455.68" y="384.28" width="6.67" height="7.11" fill="#d2426f"/><rect x="462.00" y="384.28" width="6.67" height="7.11" fill="#5d177f"/><rect x="468.32" y="384.28" width="6.67" height="7.11" fill="#241253"/><rect x="474.65" y="384.28" width="6.67" height="7.11" fill="#752181"/><rect x="480.97" y="384.28" width="6.67" height="7.11" fill="#e75263"/><rect x="487.29" y="384.28" width="6.67" height="7.11" fill="#d9466b"/><rect x="493.62" y="384.28" width="6.67" height="7.11" fill="#f2625d"/><rect x="499.94" y="384.28" width="6.67" height="7.11" fill="#621980"/><rect x="506.26" y="384.28" width="6.67" height="7.11" fill="#471078"/><rect x="512.59" y="384.28" width="6.67" height="7.11" fill="#4e117b"/><rect x="518.91" y="384.28" width="6.67" height="7.11" fill="#c23b75"/><rect x="525.24" y="384.28" width="6.67" height="7.11" fill="#ea5661"/><rect x="531.56" y="384.28" width="6.67" height="7.11" fill="#bf3a77"/><rect x="537.88" y="384.28" width="6.67" height="7.11" fill="#752181"/><rect x="544.21" y="384.28" width="6.67" height="7.11" fill="#440f76"/><rect x="550.53" y="384.28" width="6.67" height="7.11" fill="#4c117a"/><rect x="556.85" y="384.28" width="6.67" height="7.11" fill="#ae347b"/><rect x="563.18" y="384.28" width="6.67" height="7.11" fill="#e55064"/><rect x="569.50" y="384.28" width="6.67" height="7.11" fill="#c03a76"/><rect x="575.82" y="384.28" width="6.67" height="7.11" fill="#601880"/><rect x="582.15" y="384.28" width="6.67" height="7.11" fill="#3d0f71"/><rect x="588.47" y="384.28" width="6.67" height="7.11" fill="#601880"/><rect x="594.79" y="384.28" width="6.67" height="7.11" fill="#902a81"/><rect x="601.12" y="384.28" width="6.67" height="7.11" fill="#ad347c"/><rect x="607.44" y="384.28" width="6.67" height="7.11" fill="#c83e73"/><rect x="613.76" y="384.28" width="6.67" height="7.11" fill="#641a80"/><rect x="620.09" y="384.28" width="6.67" height="7.11" fill="#4f127b"/><rect x="626.41" y="384.28" width="6.67" height="7.11" fill="#59157e"/><rect x="632.74" y="384.28" width="6.67" height="7.11" fill="#b83779"/><rect x="639.06" y="384.28" width="6.67" height="7.11" fill="#db476a"/><rect x="645.38" y="384.28" width="6.67" height="7.11" fill="#992d80"/><rect x="651.71" y="384.28" width="6.67" height="7.11" fill="#782281"/><rect x="658.03" y="384.28" width="6.67" height="7.11" fill="#471078"/><rect x="664.35" y="384.28" width="6.67" height="7.11" fill="#8e2a81"/><rect x="670.68" y="384.28" width="6.67" height="7.11" fill="#a6317d"/><rect x="354.50" y="391.04" width="6.67" height="7.11" fill="#180f3d"/><rect x="360.82" y="391.04" width="6.67" height="7.11" fill="#752181"/><rect x="367.15" y="391.04" width="6.67" height="7.11" fill="#e44f64"/><rect x="373.47" y="391.04" width="6.67" height="7.11" fill="#fa7f5e"/><rect x="379.79" y="391.04" width="6.67" height="7.11" fill="#bc3978"/><rect x="386.12" y="391.04" width="6.67" height="7.11" fill="#271258"/><rect x="392.44" y="391.04" width="6.67" height="7.11" fill="#140e36"/><rect x="398.76" y="391.04" width="6.67" height="7.11" fill="#8e2a81"/><rect x="405.09" y="391.04" width="6.67" height="7.11" fill="#ec5860"/><rect x="411.41" y="391.04" width="6.67" height="7.11" fill="#df4a68"/><rect x="417.74" y="391.04" width="6.67" height="7.11" fill="#b0357b"/><rect x="424.06" y="391.04" width="6.67" height="7.11" fill="#1e1149"/><rect x="430.38" y="391.04" width="6.67" height="7.11" fill="#2a115c"/><rect x="436.71" y="391.04" width="6.67" height="7.11" fill="#982d80"/><rect x="443.03" y="391.04" width="6.67" height="7.11" fill="#f56b5c"/><rect x="449.35" y="391.04" width="6.67" height="7.11" fill="#e24d66"/><rect x="455.68" y="391.04" width="6.67" height="7.11" fill="#651a80"/><rect x="462.00" y="391.04" width="6.67" height="7.11" fill="#341069"/><rect x="468.32" y="391.04" width="6.67" height="7.11" fill="#38106c"/><rect x="474.65" y="391.04" width="6.67" height="7.11" fill="#b73779"/><rect x="480.97" y="391.04" width="6.67" height="7.11" fill="#de4968"/><rect x="487.29" y="391.04" width="6.67" height="7.11" fill="#a8327d"/><rect x="493.62" y="391.04" width="6.67" height="7.11" fill="#52137c"/><rect x="499.94" y="391.04" width="6.67" height="7.11" fill="#0c0926"/><rect x="506.26" y="391.04" width="6.67" height="7.11" fill="#b73779"/><rect x="512.59" y="391.04" width="6.67" height="7.11" fill="#b73779"/><rect x="518.91" y="391.04" width="6.67" height="7.11" fill="#d6456c"/><rect x="525.24" y="391.04" width="6.67" height="7.11" fill="#962c80"/><rect x="531.56" y="391.04" width="6.67" height="7.11" fill="#51127c"/><rect x="537.88" y="391.04" width="6.67" height="7.11" fill="#4c117a"/><rect x="544.21" y="391.04" width="6.67" height="7.11" fill="#54137d"/><rect x="550.53" y="391.04" width="6.67" height="7.11" fill="#ae347b"/><rect x="556.85" y="391.04" width="6.67" height="7.11" fill="#c03a76"/><rect x="563.18" y="391.04" width="6.67" height="7.11" fill="#59157e"/><rect x="569.50" y="391.04" width="6.67" height="7.11" fill="#2a115c"/><rect x="575.82" y="391.04" width="6.67" height="7.11" fill="#2c115f"/><rect x="582.15" y="391.04" width="6.67" height="7.11" fill="#b5367a"/><rect x="588.47" y="391.04" width="6.67" height="7.11" fill="#c23b75"/><rect x="594.79" y="391.04" width="6.67" height="7.11" fill="#812581"/><rect x="601.12" y="391.04" width="6.67" height="7.11" fill="#5a167e"/><rect x="607.44" y="391.04" width="6.67" height="7.11" fill="#4a1079"/><rect x="613.76" y="391.04" width="6.67" height="7.11" fill="#5a167e"/><rect x="620.09" y="391.04" width="6.67" height="7.11" fill="#982d80"/><rect x="626.41" y="391.04" width="6.67" height="7.11" fill="#aa337d"/><rect x="632.74" y="391.04" width="6.67" height="7.11" fill="#892881"/><rect x="639.06" y="391.04" width="6.67" height="7.11" fill="#721f81"/><rect x="645.38" y="391.04" width="6.67" height="7.11" fill="#5a167e"/><rect x="651.71" y="391.04" width="6.67" height="7.11" fill="#732081"/><rect x="658.03" y="391.04" width="6.67" height="7.11" fill="#a1307e"/><rect x="664.35" y="391.04" width="6.67" height="7.11" fill="#832681"/><rect x="670.68" y="391.04" width="6.67" height="7.11" fill="#57157e"/><rect x="354.50" y="397.80" width="6.67" height="7.11" fill="#3f0f72"/><rect x="360.82" y="397.80" width="6.67" height="7.11" fill="#54137d"/><rect x="367.15" y="397.80" width="6.67" height="7.11" fill="#db476a"/><rect x="373.47" y="397.80" width="6.67" height="7.11" fill="#f3655c"/><rect x="379.79" y="397.80" width="6.67" height="7.11" fill="#721f81"/><rect x="386.12" y="397.80" width="6.67" height="7.11" fill="#2a115c"/><rect x="392.44" y="397.80" width="6.67" height="7.11" fill="#3b0f70"/><rect x="398.76" y="397.80" width="6.67" height="7.11" fill="#a8327d"/><rect x="405.09" y="397.80" width="6.67" height="7.11" fill="#f05f5e"/><rect x="411.41" y="397.80" width="6.67" height="7.11" fill="#a3307e"/><rect x="417.74" y="397.80" width="6.67" height="7.11" fill="#130d34"/><rect x="424.06" y="397.80" width="6.67" height="7.11" fill="#19103f"/><rect x="430.38" y="397.80" width="6.67" height="7.11" fill="#651a80"/><rect x="436.71" y="397.80" width="6.67" height="7.11" fill="#e85362"/><rect x="443.03" y="397.80" width="6.67" height="7.11" fill="#d3436e"/><rect x="449.35" y="397.80" width="6.67" height="7.11" fill="#5c167f"/><rect x="455.68" y="397.80" width="6.67" height="7.11" fill="#221150"/><rect x="462.00" y="397.80" width="6.67" height="7.11" fill="#6b1d81"/><rect x="468.32" y="397.80" width="6.67" height="7.11" fill="#cc3f71"/><rect x="474.65" y="397.80" width="6.67" height="7.11" fill="#db476a"/><rect x="480.97" y="397.80" width="6.67" height="7.11" fill="#942c80"/><rect x="487.29" y="397.80" width="6.67" height="7.11" fill="#311165"/><rect x="493.62" y="397.80" width="6.67" height="7.11" fill="#36106b"/><rect x="499.94" y="397.80" width="6.67" height="7.11" fill="#962c80"/><rect x="506.26" y="397.80" width="6.67" height="7.11" fill="#c43c75"/><rect x="512.59" y="397.80" width="6.67" height="7.11" fill="#ab337c"/><rect x="518.91" y="397.80" width="6.67" height="7.11" fill="#3f0f72"/><rect x="525.24" y="397.80" width="6.67" height="7.11" fill="#150e38"/><rect x="531.56" y="397.80" width="6.67" height="7.11" fill="#471078"/><rect x="537.88" y="397.80" width="6.67" height="7.11" fill="#a3307e"/><rect x="544.21" y="397.80" width="6.67" height="7.11" fill="#ca3e72"/><rect x="550.53" y="397.80" width="6.67" height="7.11" fill="#892881"/><rect x="556.85" y="397.80" width="6.67" height="7.11" fill="#2a115c"/><rect x="563.18" y="397.80" width="6.67" height="7.11" fill="#331067"/><rect x="569.50" y="397.80" width="6.67" height="7.11" fill="#a02f7f"/><rect x="575.82" y="397.80" width="6.67" height="7.11" fill="#b2357b"/><rect x="582.15" y="397.80" width="6.67" height="7.11" fill="#6a1c81"/><rect x="588.47" y="397.80" width="6.67" height="7.11" fill="#681c81"/><rect x="594.79" y="397.80" width="6.67" height="7.11" fill="#51127c"/><rect x="601.12" y="397.80" width="6.67" height="7.11" fill="#912b81"/><rect x="607.44" y="397.80" width="6.67" height="7.11" fill="#a02f7f"/><rect x="613.76" y="397.80" width="6.67" height="7.11" fill="#a02f7f"/><rect x="620.09" y="397.80" width="6.67" height="7.11" fill="#6b1d81"/><rect x="626.41" y="397.80" width="6.67" height="7.11" fill="#3d0f71"/><rect x="632.74" y="397.80" width="6.67" height="7.11" fill="#601880"/><rect x="639.06" y="397.80" width="6.67" height="7.11" fill="#792282"/><rect x="645.38" y="397.80" width="6.67" height="7.11" fill="#9e2f7f"/><rect x="651.71" y="397.80" width="6.67" height="7.11" fill="#5d177f"/><rect x="658.03" y="397.80" width="6.67" height="7.11" fill="#390f6e"/><rect x="664.35" y="397.80" width="6.67" height="7.11" fill="#6b1d81"/><rect x="670.68" y="397.80" width="6.67" height="7.11" fill="#8e2a81"/><rect x="354.50" y="404.56" width="6.67" height="7.11" fill="#451077"/><rect x="360.82" y="404.56" width="6.67" height="7.11" fill="#732081"/><rect x="367.15" y="404.56" width="6.67" height="7.11" fill="#b3367a"/><rect x="373.47" y="404.56" width="6.67" height="7.11" fill="#c73d73"/><rect x="379.79" y="404.56" width="6.67" height="7.11" fill="#57157e"/><rect x="386.12" y="404.56" width="6.67" height="7.11" fill="#150e38"/><rect x="392.44" y="404.56" width="6.67" height="7.11" fill="#251255"/><rect x="398.76" y="404.56" width="6.67" height="7.11" fill="#c53c74"/><rect x="405.09" y="404.56" width="6.67" height="7.11" fill="#d8456c"/><rect x="411.41" y="404.56" width="6.67" height="7.11" fill="#57157e"/><rect x="417.74" y="404.56" width="6.67" height="7.11" fill="#1d1147"/><rect x="424.06" y="404.56" width="6.67" height="7.11" fill="#641a80"/><rect x="430.38" y="404.56" width="6.67" height="7.11" fill="#b73779"/><rect x="436.71" y="404.56" width="6.67" height="7.11" fill="#e04c67"/><rect x="443.03" y="404.56" width="6.67" height="7.11" fill="#862781"/><rect x="449.35" y="404.56" width="6.67" height="7.11" fill="#2a115c"/><rect x="455.68" y="404.56" width="6.67" height="7.11" fill="#4e117b"/><rect x="462.00" y="404.56" width="6.67" height="7.11" fill="#9e2f7f"/><rect x="468.32" y="404.56" width="6.67" height="7.11" fill="#db476a"/><rect x="474.65" y="404.56" width="6.67" height="7.11" fill="#6e1e81"/><rect x="480.97" y="404.56" width="6.67" height="7.11" fill="#1e1149"/><rect x="487.29" y="404.56" width="6.67" height="7.11" fill="#52137c"/><rect x="493.62" y="404.56" width="6.67" height="7.11" fill="#892881"/><rect x="499.94" y="404.56" width="6.67" height="7.11" fill="#c03a76"/><rect x="506.26" y="404.56" width="6.67" height="7.11" fill="#912b81"/><rect x="512.59" y="404.56" width="6.67" height="7.11" fill="#390f6e"/><rect x="518.91" y="404.56" width="6.67" height="7.11" fill="#471078"/><rect x="525.24" y="404.56" width="6.67" height="7.11" fill="#9c2e7f"/><rect x="531.56" y="404.56" width="6.67" height="7.11" fill="#ba3878"/><rect x="537.88" y="404.56" width="6.67" height="7.11" fill="#5d177f"/><rect x="544.21" y="404.56" width="6.67" height="7.11" fill="#271258"/><rect x="550.53" y="404.56" width="6.67" height="7.11" fill="#641a80"/><rect x="556.85" y="404.56" width="6.67" height="7.11" fill="#862781"/><rect x="563.18" y="404.56" width="6.67" height="7.11" fill="#732081"/><rect x="569.50" y="404.56" width="6.67" height="7.11" fill="#621980"/><rect x="575.82" y="404.56" width="6.67" height="7.11" fill="#4e117b"/><rect x="582.15" y="404.56" width="6.67" height="7.11" fill="#36106b"/><rect x="588.47" y="404.56" width="6.67" height="7.11" fill="#802582"/><rect x="594.79" y="404.56" width="6.67" height="7.11" fill="#932b80"/><rect x="601.12" y="404.56" width="6.67" height="7.11" fill="#842681"/><rect x="607.44" y="404.56" width="6.67" height="7.11" fill="#3b0f70"/><rect x="613.76" y="404.56" width="6.67" height="7.11" fill="#5d177f"/><rect x="620.09" y="404.56" width="6.67" height="7.11" fill="#962c80"/><rect x="626.41" y="404.56" width="6.67" height="7.11" fill="#752181"/><rect x="632.74" y="404.56" width="6.67" height="7.11" fill="#912b81"/><rect x="639.06" y="404.56" width="6.67" height="7.11" fill="#6d1d81"/><rect x="645.38" y="404.56" width="6.67" height="7.11" fill="#621980"/><rect x="651.71" y="404.56" width="6.67" height="7.11" fill="#681c81"/><rect x="658.03" y="404.56" width="6.67" height="7.11" fill="#651a80"/><rect x="664.35" y="404.56" width="6.67" height="7.11" fill="#621980"/><rect x="670.68" y="404.56" width="6.67" height="7.11" fill="#6d1d81"/><rect x="354.50" y="411.32" width="6.67" height="7.11" fill="#3b0f70"/><rect x="360.82" y="411.32" width="6.67" height="7.11" fill="#762181"/><rect x="367.15" y="411.32" width="6.67" height="7.11" fill="#dc4869"/><rect x="373.47" y="411.32" width="6.67" height="7.11" fill="#c83e73"/><rect x="379.79" y="411.32" width="6.67" height="7.11" fill="#38106c"/><rect x="386.12" y="411.32" width="6.67" height="7.11" fill="#07061c"/><rect x="392.44" y="411.32" width="6.67" height="7.11" fill="#782281"/><rect x="398.76" y="411.32" width="6.67" height="7.11" fill="#d5446d"/><rect x="405.09" y="411.32" width="6.67" height="7.11" fill="#9e2f7f"/><rect x="411.41" y="411.32" width="6.67" height="7.11" fill="#130d34"/><rect x="417.74" y="411.32" width="6.67" height="7.11" fill="#1c1044"/><rect x="424.06" y="411.32" width="6.67" height="7.11" fill="#6a1c81"/><rect x="430.38" y="411.32" width="6.67" height="7.11" fill="#c73d73"/><rect x="436.71" y="411.32" width="6.67" height="7.11" fill="#6d1d81"/><rect x="443.03" y="411.32" width="6.67" height="7.11" fill="#241253"/><rect x="449.35" y="411.32" width="6.67" height="7.11" fill="#3f0f72"/><rect x="455.68" y="411.32" width="6.67" height="7.11" fill="#982d80"/><rect x="462.00" y="411.32" width="6.67" height="7.11" fill="#d0416f"/><rect x="468.32" y="411.32" width="6.67" height="7.11" fill="#54137d"/><rect x="474.65" y="411.32" width="6.67" height="7.11" fill="#060518"/><rect x="480.97" y="411.32" width="6.67" height="7.11" fill="#601880"/><rect x="487.29" y="411.32" width="6.67" height="7.11" fill="#b83779"/><rect x="493.62" y="411.32" width="6.67" height="7.11" fill="#bf3a77"/><rect x="499.94" y="411.32" width="6.67" height="7.11" fill="#5f187f"/><rect x="506.26" y="411.32" width="6.67" height="7.11" fill="#390f6e"/><rect x="512.59" y="411.32" width="6.67" height="7.11" fill="#601880"/><rect x="518.91" y="411.32" width="6.67" height="7.11" fill="#802582"/><rect x="525.24" y="411.32" width="6.67" height="7.11" fill="#812581"/><rect x="531.56" y="411.32" width="6.67" height="7.11" fill="#59157e"/><rect x="537.88" y="411.32" width="6.67" height="7.11" fill="#2d1161"/><rect x="544.21" y="411.32" width="6.67" height="7.11" fill="#912b81"/><rect x="550.53" y="411.32" width="6.67" height="7.11" fill="#732081"/><rect x="556.85" y="411.32" width="6.67" height="7.11" fill="#721f81"/><rect x="563.18" y="411.32" width="6.67" height="7.11" fill="#601880"/><rect x="569.50" y="411.32" width="6.67" height="7.11" fill="#390f6e"/><rect x="575.82" y="411.32" width="6.67" height="7.11" fill="#5a167e"/><rect x="582.15" y="411.32" width="6.67" height="7.11" fill="#6b1d81"/><rect x="588.47" y="411.32" width="6.67" height="7.11" fill="#5d177f"/><rect x="594.79" y="411.32" width="6.67" height="7.11" fill="#681c81"/><rect x="601.12" y="411.32" width="6.67" height="7.11" fill="#5a167e"/><rect x="607.44" y="411.32" width="6.67" height="7.11" fill="#7c2382"/><rect x="613.76" y="411.32" width="6.67" height="7.11" fill="#721f81"/><rect x="620.09" y="411.32" width="6.67" height="7.11" fill="#732081"/><rect x="626.41" y="411.32" width="6.67" height="7.11" fill="#4f127b"/><rect x="632.74" y="411.32" width="6.67" height="7.11" fill="#471078"/><rect x="639.06" y="411.32" width="6.67" height="7.11" fill="#681c81"/><rect x="645.38" y="411.32" width="6.67" height="7.11" fill="#762181"/><rect x="651.71" y="411.32" width="6.67" height="7.11" fill="#752181"/><rect x="658.03" y="411.32" width="6.67" height="7.11" fill="#51127c"/><rect x="664.35" y="411.32" width="6.67" height="7.11" fill="#681c81"/><rect x="670.68" y="411.32" width="6.67" height="7.11" fill="#962c80"/><rect x="354.50" y="418.08" width="6.67" height="7.11" fill="#180f3d"/><rect x="360.82" y="418.08" width="6.67" height="7.11" fill="#440f76"/><rect x="367.15" y="418.08" width="6.67" height="7.11" fill="#d3436e"/><rect x="373.47" y="418.08" width="6.67" height="7.11" fill="#a02f7f"/><rect x="379.79" y="418.08" width="6.67" height="7.11" fill="#251255"/><rect x="386.12" y="418.08" width="6.67" height="7.11" fill="#2a115c"/><rect x="392.44" y="418.08" width="6.67" height="7.11" fill="#892881"/><rect x="398.76" y="418.08" width="6.67" height="7.11" fill="#c53c74"/><rect x="405.09" y="418.08" width="6.67" height="7.11" fill="#5a167e"/><rect x="411.41" y="418.08" width="6.67" height="7.11" fill="#271258"/><rect x="417.74" y="418.08" width="6.67" height="7.11" fill="#3b0f70"/><rect x="424.06" y="418.08" width="6.67" height="7.11" fill="#9c2e7f"/><rect x="430.38" y="418.08" width="6.67" height="7.11" fill="#962c80"/><rect x="436.71" y="418.08" width="6.67" height="7.11" fill="#2a115c"/><rect x="443.03" y="418.08" width="6.67" height="7.11" fill="#38106c"/><rect x="449.35" y="418.08" width="6.67" height="7.11" fill="#802582"/><rect x="455.68" y="418.08" width="6.67" height="7.11" fill="#9e2f7f"/><rect x="462.00" y="418.08" width="6.67" height="7.11" fill="#6a1c81"/><rect x="468.32" y="418.08" width="6.67" height="7.11" fill="#1a1042"/><rect x="474.65" y="418.08" width="6.67" height="7.11" fill="#2d1161"/><rect x="480.97" y="418.08" width="6.67" height="7.11" fill="#812581"/><rect x="487.29" y="418.08" width="6.67" height="7.11" fill="#7b2382"/><rect x="493.62" y="418.08" width="6.67" height="7.11" fill="#38106c"/><rect x="499.94" y="418.08" width="6.67" height="7.11" fill="#341069"/><rect x="506.26" y="418.08" width="6.67" height="7.11" fill="#842681"/><rect x="512.59" y="418.08" width="6.67" height="7.11" fill="#a02f7f"/><rect x="518.91" y="418.08" width="6.67" height="7.11" fill="#8b2981"/><rect x="525.24" y="418.08" width="6.67" height="7.11" fill="#51127c"/><rect x="531.56" y="418.08" width="6.67" height="7.11" fill="#4a1079"/><rect x="537.88" y="418.08" width="6.67" height="7.11" fill="#a5317e"/><rect x="544.21" y="418.08" width="6.67" height="7.11" fill="#962c80"/><rect x="550.53" y="418.08" width="6.67" height="7.11" fill="#440f76"/><rect x="556.85" y="418.08" width="6.67" height="7.11" fill="#451077"/><rect x="563.18" y="418.08" width="6.67" height="7.11" fill="#7c2382"/><rect x="569.50" y="418.08" width="6.67" height="7.11" fill="#842681"/><rect x="575.82" y="418.08" width="6.67" height="7.11" fill="#792282"/><rect x="582.15" y="418.08" width="6.67" height="7.11" fill="#4c117a"/><rect x="588.47" y="418.08" width="6.67" height="7.11" fill="#5f187f"/><rect x="594.79" y="418.08" width="6.67" height="7.11" fill="#6b1d81"/><rect x="601.12" y="418.08" width="6.67" height="7.11" fill="#782281"/><rect x="607.44" y="418.08" width="6.67" height="7.11" fill="#4c117a"/><rect x="613.76" y="418.08" width="6.67" height="7.11" fill="#57157e"/><rect x="620.09" y="418.08" width="6.67" height="7.11" fill="#3b0f70"/><rect x="626.41" y="418.08" width="6.67" height="7.11" fill="#762181"/><rect x="632.74" y="418.08" width="6.67" height="7.11" fill="#7b2382"/><rect x="639.06" y="418.08" width="6.67" height="7.11" fill="#5a167e"/><rect x="645.38" y="418.08" width="6.67" height="7.11" fill="#52137c"/><rect x="651.71" y="418.08" width="6.67" height="7.11" fill="#701f81"/><rect x="658.03" y="418.08" width="6.67" height="7.11" fill="#56147d"/><rect x="664.35" y="418.08" width="6.67" height="7.11" fill="#451077"/><rect x="670.68" y="418.08" width="6.67" height="7.11" fill="#491078"/><rect x="354.50" y="424.84" width="6.67" height="7.11" fill="#241253"/><rect x="360.82" y="424.84" width="6.67" height="7.11" fill="#721f81"/><rect x="367.15" y="424.84" width="6.67" height="7.11" fill="#a1307e"/><rect x="373.47" y="424.84" width="6.67" height="7.11" fill="#902a81"/><rect x="379.79" y="424.84" width="6.67" height="7.11" fill="#050416"/><rect x="386.12" y="424.84" width="6.67" height="7.11" fill="#2c115f"/><rect x="392.44" y="424.84" width="6.67" height="7.11" fill="#a02f7f"/><rect x="398.76" y="424.84" width="6.67" height="7.11" fill="#ad347c"/><rect x="405.09" y="424.84" width="6.67" height="7.11" fill="#221150"/><rect x="411.41" y="424.84" width="6.67" height="7.11" fill="#050416"/><rect x="417.74" y="424.84" width="6.67" height="7.11" fill="#8e2a81"/><rect x="424.06" y="424.84" width="6.67" height="7.11" fill="#a02f7f"/><rect x="430.38" y="424.84" width="6.67" height="7.11" fill="#341069"/><rect x="436.71" y="424.84" width="6.67" height="7.11" fill="#0d0a29"/><rect x="443.03" y="424.84" width="6.67" height="7.11" fill="#59157e"/><rect x="449.35" y="424.84" width="6.67" height="7.11" fill="#a1307e"/><rect x="455.68" y="424.84" width="6.67" height="7.11" fill="#732081"/><rect x="462.00" y="424.84" width="6.67" height="7.11" fill="#0b0924"/><rect x="468.32" y="424.84" width="6.67" height="7.11" fill="#792282"/><rect x="474.65" y="424.84" width="6.67" height="7.11" fill="#902a81"/><rect x="480.97" y="424.84" width="6.67" height="7.11" fill="#721f81"/><rect x="487.29" y="424.84" width="6.67" height="7.11" fill="#420f75"/><rect x="493.62" y="424.84" width="6.67" height="7.11" fill="#3d0f71"/><rect x="499.94" y="424.84" width="6.67" height="7.11" fill="#ab337c"/><rect x="506.26" y="424.84" width="6.67" height="7.11" fill="#992d80"/><rect x="512.59" y="424.84" width="6.67" height="7.11" fill="#400f74"/><rect x="518.91" y="424.84" width="6.67" height="7.11" fill="#2a115c"/><rect x="525.24" y="424.84" width="6.67" height="7.11" fill="#5c167f"/><rect x="531.56" y="424.84" width="6.67" height="7.11" fill="#792282"/><rect x="537.88" y="424.84" width="6.67" height="7.11" fill="#671b80"/><rect x="544.21" y="424.84" width="6.67" height="7.11" fill="#29115a"/><rect x="550.53" y="424.84" width="6.67" height="7.11" fill="#762181"/><rect x="556.85" y="424.84" width="6.67" height="7.11" fill="#762181"/><rect x="563.18" y="424.84" width="6.67" height="7.11" fill="#601880"/><rect x="569.50" y="424.84" width="6.67" height="7.11" fill="#54137d"/><rect x="575.82" y="424.84" width="6.67" height="7.11" fill="#21114e"/><rect x="582.15" y="424.84" width="6.67" height="7.11" fill="#59157e"/><rect x="588.47" y="424.84" width="6.67" height="7.11" fill="#752181"/><rect x="594.79" y="424.84" width="6.67" height="7.11" fill="#4a1079"/><rect x="601.12" y="424.84" width="6.67" height="7.11" fill="#451077"/><rect x="607.44" y="424.84" width="6.67" height="7.11" fill="#681c81"/><rect x="613.76" y="424.84" width="6.67" height="7.11" fill="#5c167f"/><rect x="620.09" y="424.84" width="6.67" height="7.11" fill="#4f127b"/><rect x="626.41" y="424.84" width="6.67" height="7.11" fill="#2a115c"/><rect x="632.74" y="424.84" width="6.67" height="7.11" fill="#2f1163"/><rect x="639.06" y="424.84" width="6.67" height="7.11" fill="#7c2382"/><rect x="645.38" y="424.84" width="6.67" height="7.11" fill="#451077"/><rect x="651.71" y="424.84" width="6.67" height="7.11" fill="#3b0f70"/><rect x="658.03" y="424.84" width="6.67" height="7.11" fill="#6d1d81"/><rect x="664.35" y="424.84" width="6.67" height="7.11" fill="#721f81"/><rect x="670.68" y="424.84" width="6.67" height="7.11" fill="#4f127b"/></g>
<rect x="354.5" y="262.6" width="322.5" height="169.0" fill="none" stroke="#555" stroke-width="0.9"/>
<defs><linearGradient id="mg" x1="0" x2="1" y1="0" y2="0"><stop offset="0.00" stop-color="#000004"/><stop offset="0.05" stop-color="#06051a"/><stop offset="0.10" stop-color="#140e36"/><stop offset="0.15" stop-color="#251255"/><stop offset="0.20" stop-color="#3b0f70"/><stop offset="0.25" stop-color="#51127c"/><stop offset="0.30" stop-color="#641a80"/><stop offset="0.35" stop-color="#782281"/><stop offset="0.40" stop-color="#8c2981"/><stop offset="0.45" stop-color="#a1307e"/><stop offset="0.50" stop-color="#b73779"/><stop offset="0.55" stop-color="#ca3e72"/><stop offset="0.60" stop-color="#de4968"/><stop offset="0.65" stop-color="#ed5a5f"/><stop offset="0.70" stop-color="#f7705c"/><stop offset="0.75" stop-color="#fc8961"/><stop offset="0.80" stop-color="#fe9f6d"/><stop offset="0.85" stop-color="#feb77e"/><stop offset="0.90" stop-color="#fecf92"/><stop offset="0.95" stop-color="#fde7a9"/><stop offset="1.00" stop-color="#fcfdbf"/></linearGradient></defs>
<rect x="455.9" y="245.0" width="185.3" height="10.9" fill="url(#mg)" stroke="#8a8a8a" stroke-width="0.8"/>
<text x="448.0" y="255.3" font-size="15.2" text-anchor="end" textLength="28.6" lengthAdjust="spacingAndGlyphs" >0.10</text>
<text x="649.4" y="255.3" font-size="15.6" textLength="31.9" lengthAdjust="spacingAndGlyphs" >0.40</text>
<g transform="translate(472.5,232.8) rotate(0)"><text x="-1.45" y="0" font-size="17" textLength="69.2" lengthAdjust="spacingAndGlyphs">Electron</text><path d="M78.45,0.00 L78.45,-11.80 M73.75,-7.50 L78.45,-12.40 L83.15,-7.50" fill="none" stroke="#231f20" stroke-width="1.35" stroke-linejoin="miter" stroke-linecap="butt"/><text x="89.45" y="0" font-size="17" textLength="63.8" lengthAdjust="spacingAndGlyphs">fraction</text></g>
<text x="346.6" y="286.5" font-size="15.2" text-anchor="end" textLength="23.4" lengthAdjust="spacingAndGlyphs" >0.4</text>
<text x="346.6" y="320.3" font-size="15.2" text-anchor="end" textLength="23.4" lengthAdjust="spacingAndGlyphs" >0.2</text>
<text x="346.6" y="354.2" font-size="15.2" text-anchor="end" >0</text>
<text x="346.6" y="388.4" font-size="15.2" text-anchor="end" textLength="31.0" lengthAdjust="spacingAndGlyphs" >−0.2</text>
<text x="346.6" y="421.7" font-size="15.2" text-anchor="end" textLength="31.0" lengthAdjust="spacingAndGlyphs" >−0.4</text>
<text x="355.2" y="451.5" font-size="15.2" text-anchor="middle" >0</text>
<text x="435.4" y="451.5" font-size="15.2" text-anchor="middle" >5</text>
<text x="515.5" y="451.5" font-size="15.2" text-anchor="middle" >10</text>
<text x="595.6" y="451.5" font-size="15.2" text-anchor="middle" >15</text>
<text x="675.3" y="451.5" font-size="15.2" text-anchor="middle" >20</text>
<text x="439.8" y="474.9" font-size="17" textLength="152.4" lengthAdjust="spacingAndGlyphs" >Pulse duration (µs)</text>
<text transform="translate(304.8,347.3) rotate(-90)" font-size="17" text-anchor="middle" textLength="126.6" lengthAdjust="spacingAndGlyphs" >Detuning (MHz)</text>
<line x1="356.5" y1="662.60" x2="675.6" y2="662.60" stroke="#b5b5b5" stroke-width="1" stroke-dasharray="1.2 2.3"/>
<line x1="356.5" y1="628.20" x2="675.6" y2="628.20" stroke="#b5b5b5" stroke-width="1" stroke-dasharray="1.2 2.3"/>
<line x1="356.5" y1="593.80" x2="675.6" y2="593.80" stroke="#b5b5b5" stroke-width="1" stroke-dasharray="1.2 2.3"/>
<line x1="356.5" y1="559.40" x2="675.6" y2="559.40" stroke="#b5b5b5" stroke-width="1" stroke-dasharray="1.2 2.3"/>
<line x1="356.5" y1="525.00" x2="675.6" y2="525.00" stroke="#b5b5b5" stroke-width="1" stroke-dasharray="1.2 2.3"/>
<line x1="370.00" y1="505.6" x2="370.00" y2="672.8" stroke="#b5b5b5" stroke-width="1" stroke-dasharray="1.2 2.3"/>
<line x1="467.35" y1="505.6" x2="467.35" y2="672.8" stroke="#b5b5b5" stroke-width="1" stroke-dasharray="1.2 2.3"/>
<line x1="564.70" y1="505.6" x2="564.70" y2="672.8" stroke="#b5b5b5" stroke-width="1" stroke-dasharray="1.2 2.3"/>
<line x1="662.05" y1="505.6" x2="662.05" y2="672.8" stroke="#b5b5b5" stroke-width="1" stroke-dasharray="1.2 2.3"/>
<rect x="355.5" y="504.6" width="321.1" height="169.2" fill="none" stroke="#8c8c8c" stroke-width="1.2"/>
<polyline points="370.00,590.81 370.73,596.51 371.46,602.15 372.20,607.71 372.93,613.16 373.66,618.47 374.39,623.60 375.12,628.53 375.86,633.24 376.59,637.69 377.32,641.86 378.05,645.74 378.78,649.29 379.52,652.50 380.25,655.36 380.98,657.84 381.71,659.93 382.44,661.63 383.18,662.91 383.91,663.79 384.64,664.25 385.37,664.28 386.10,663.90 386.83,663.09 387.57,661.88 388.30,660.26 389.03,658.24 389.76,655.83 390.49,653.06 391.23,649.93 391.96,646.46 392.69,642.66 393.42,638.58 394.15,634.21 394.89,629.59 395.62,624.75 396.35,619.71 397.08,614.50 397.81,609.15 398.55,603.68 399.28,598.13 400.01,592.52 400.74,586.90 401.47,581.28 402.21,575.71 402.94,570.20 403.67,564.79 404.40,559.52 405.13,554.40 405.87,549.47 406.60,544.75 407.33,540.27 408.06,536.05 408.79,532.11 409.53,528.48 410.26,525.18 410.99,522.21 411.72,519.61 412.45,517.37 413.19,515.52 413.92,514.06 414.65,512.99 415.38,512.34 416.11,512.08 416.85,512.24 417.58,512.80 418.31,513.76 419.04,515.11 419.77,516.85 420.50,518.97 421.24,521.45 421.97,524.28 422.70,527.44 423.43,530.91 424.16,534.68 424.90,538.72 425.63,543.01 426.36,547.53 427.09,552.24 427.82,557.13 428.56,562.17 429.29,567.33 430.02,572.57 430.75,577.88 431.48,583.22 432.22,588.56 432.95,593.88 433.68,599.14 434.41,604.31 435.14,609.37 435.88,614.30 436.61,619.06 437.34,623.63 438.07,627.98 438.80,632.09 439.54,635.94 440.27,639.52 441.00,642.79 441.73,645.75 442.46,648.38 443.20,650.66 443.93,652.59 444.66,654.16 445.39,655.35 446.12,656.17 446.86,656.61 447.59,656.67 448.32,656.35 449.05,655.65 449.78,654.59 450.52,653.16 451.25,651.38 451.98,649.25 452.71,646.80 453.44,644.03 454.17,640.96 454.91,637.62 455.64,634.01 456.37,630.17 457.10,626.10 457.83,621.84 458.57,617.42 459.30,612.84 460.03,608.15 460.76,603.37 461.49,598.52 462.23,593.62 462.96,588.72 463.69,583.83 464.42,578.98 465.15,574.20 465.89,569.51 466.62,564.93 467.35,560.50 468.08,556.24 468.81,552.16 469.55,548.30 470.28,544.66 471.01,541.27 471.74,538.15 472.47,535.31 473.21,532.76 473.94,530.52 474.67,528.60 475.40,527.01 476.13,525.75 476.87,524.82 477.60,524.24 478.33,524.01 479.06,524.11 479.79,524.56 480.53,525.34 481.26,526.45 481.99,527.88 482.72,529.63 483.45,531.67 484.18,534.01 484.92,536.61 485.65,539.47 486.38,542.58 487.11,545.90 487.84,549.42 488.58,553.13 489.31,557.00 490.04,561.00 490.77,565.13 491.50,569.34 492.24,573.62 492.97,577.94 493.70,582.29 494.43,586.63 495.16,590.95 495.90,595.22 496.63,599.41 497.36,603.51 498.09,607.48 498.82,611.33 499.56,615.01 500.29,618.51 501.02,621.82 501.75,624.92 502.48,627.79 503.22,630.42 503.95,632.79 504.68,634.90 505.41,636.73 506.14,638.28 506.88,639.53 507.61,640.50 508.34,641.16 509.07,641.53 509.80,641.60 510.54,641.37 511.27,640.84 512.00,640.03 512.73,638.93 513.46,637.57 514.20,635.93 514.93,634.04 515.66,631.91 516.39,629.56 517.12,626.98 517.85,624.22 518.59,621.27 519.32,618.15 520.05,614.89 520.78,611.51 521.51,608.01 522.25,604.44 522.98,600.79 523.71,597.10 524.44,593.38 525.17,589.66 525.91,585.95 526.64,582.28 527.37,578.66 528.10,575.12 528.83,571.67 529.57,568.33 530.30,565.12 531.03,562.06 531.76,559.15 532.49,556.42 533.23,553.88 533.96,551.54 534.69,549.42 535.42,547.51 536.15,545.84 536.89,544.40 537.62,543.21 538.35,542.26 539.08,541.56 539.81,541.12 540.55,540.93 541.28,540.99 542.01,541.30 542.74,541.85 543.47,542.64 544.21,543.67 544.94,544.92 545.67,546.39 546.40,548.06 547.13,549.93 547.87,551.98 548.60,554.21 549.33,556.59 550.06,559.11 550.79,561.76 551.52,564.52 552.26,567.37 552.99,570.31 553.72,573.31 554.45,576.35 555.18,579.42 555.92,582.50 556.65,585.57 557.38,588.62 558.11,591.63 558.84,594.59 559.58,597.48 560.31,600.28 561.04,602.98 561.77,605.56 562.50,608.02 563.24,610.34 563.97,612.50 564.70,614.51 565.43,616.34 566.16,618.00 566.90,619.47 567.63,620.75 568.36,621.83 569.09,622.71 569.82,623.39 570.56,623.86 571.29,624.13 572.02,624.19 572.75,624.04 573.48,623.70 574.22,623.16 574.95,622.43 575.68,621.51 576.41,620.42 577.14,619.16 577.88,617.73 578.61,616.15 579.34,614.43 580.07,612.58 580.80,610.61 581.53,608.53 582.27,606.36 583.00,604.11 583.73,601.79 584.46,599.41 585.19,596.99 585.93,594.54 586.66,592.08 587.39,589.62 588.12,587.18 588.85,584.76 589.59,582.37 590.32,580.04 591.05,577.78 591.78,575.59 592.51,573.49 593.25,571.48 593.98,569.58 594.71,567.80 595.44,566.14 596.17,564.62 596.91,563.23 597.64,561.99 598.37,560.90 599.10,559.96 599.83,559.18 600.57,558.56 601.30,558.11 602.03,557.81 602.76,557.68 603.49,557.70 604.23,557.89 604.96,558.23 605.69,558.72 606.42,559.36 607.15,560.14 607.89,561.06 608.62,562.11 609.35,563.27 610.08,564.56 610.81,565.94 611.55,567.43 612.28,569.00 613.01,570.64 613.74,572.36 614.47,574.13 615.20,575.95 615.94,577.81 616.67,579.69 617.40,581.59 618.13,583.49 618.86,585.38 619.60,587.26 620.33,589.11 621.06,590.93 621.79,592.70 622.52,594.41 623.26,596.06 623.99,597.64 624.72,599.14 625.45,600.55 626.18,601.87 626.92,603.10 627.65,604.21 628.38,605.22 629.11,606.11 629.84,606.89 630.58,607.55 631.31,608.08 632.04,608.50 632.77,608.79 633.50,608.95 634.24,609.00 634.97,608.92 635.70,608.73 636.43,608.42 637.16,607.99 637.90,607.46 638.63,606.82 639.36,606.08 640.09,605.25 640.82,604.33 641.56,603.33 642.29,602.26 643.02,601.11 643.75,599.90 644.48,598.64 645.22,597.34 645.95,595.99 646.68,594.62 647.41,593.22 648.14,591.81 648.87,590.40 649.61,588.98 650.34,587.57 651.07,586.18 651.80,584.82 652.53,583.48 653.27,582.19 654.00,580.94 654.73,579.74 655.46,578.60 656.19,577.51 656.93,576.50 657.66,575.56 658.39,574.69 659.12,573.91 659.85,573.20 660.59,572.58 661.32,572.05 662.05,571.61" fill="none" stroke="#c86e9b" stroke-width="3.8" stroke-linejoin="round"/>
<circle cx="370.00" cy="571.78" r="3.9" fill="#231f20"/>
<circle cx="374.87" cy="626.14" r="3.9" fill="#231f20"/>
<circle cx="379.74" cy="652.28" r="3.9" fill="#231f20"/>
<circle cx="384.60" cy="666.04" r="3.9" fill="#231f20"/>
<circle cx="389.47" cy="661.91" r="3.9" fill="#231f20"/>
<circle cx="394.34" cy="628.20" r="3.9" fill="#231f20"/>
<circle cx="399.20" cy="595.86" r="3.9" fill="#231f20"/>
<circle cx="404.07" cy="553.21" r="3.9" fill="#231f20"/>
<circle cx="408.94" cy="520.18" r="3.9" fill="#231f20"/>
<circle cx="413.81" cy="517.43" r="3.9" fill="#231f20"/>
<circle cx="418.68" cy="513.99" r="3.9" fill="#231f20"/>
<circle cx="423.54" cy="528.10" r="3.9" fill="#231f20"/>
<circle cx="428.41" cy="554.58" r="3.9" fill="#231f20"/>
<circle cx="433.28" cy="592.91" r="3.9" fill="#231f20"/>
<circle cx="438.14" cy="624.07" r="3.9" fill="#231f20"/>
<circle cx="443.01" cy="654.34" r="3.9" fill="#231f20"/>
<circle cx="447.88" cy="652.00" r="3.9" fill="#231f20"/>
<circle cx="452.75" cy="641.96" r="3.9" fill="#231f20"/>
<circle cx="457.62" cy="625.72" r="3.9" fill="#231f20"/>
<circle cx="462.48" cy="589.33" r="3.9" fill="#231f20"/>
<circle cx="467.35" cy="550.32" r="3.9" fill="#231f20"/>
<circle cx="472.22" cy="532.29" r="3.9" fill="#231f20"/>
<circle cx="477.08" cy="533.81" r="3.9" fill="#231f20"/>
<circle cx="481.95" cy="528.72" r="3.9" fill="#231f20"/>
<circle cx="486.82" cy="559.40" r="3.9" fill="#231f20"/>
<circle cx="491.69" cy="566.97" r="3.9" fill="#231f20"/>
<circle cx="496.56" cy="602.33" r="3.9" fill="#231f20"/>
<circle cx="501.42" cy="621.60" r="3.9" fill="#231f20"/>
<circle cx="506.29" cy="637.01" r="3.9" fill="#231f20"/>
<circle cx="511.16" cy="640.72" r="3.9" fill="#231f20"/>
<circle cx="516.02" cy="630.40" r="3.9" fill="#231f20"/>
<circle cx="520.89" cy="608.80" r="3.9" fill="#231f20"/>
<circle cx="525.76" cy="585.89" r="3.9" fill="#231f20"/>
<circle cx="530.63" cy="560.36" r="3.9" fill="#231f20"/>
<circle cx="535.50" cy="544.95" r="3.9" fill="#231f20"/>
<circle cx="540.36" cy="540.14" r="3.9" fill="#231f20"/>
<circle cx="545.23" cy="541.31" r="3.9" fill="#231f20"/>
<circle cx="550.10" cy="566.97" r="3.9" fill="#231f20"/>
<circle cx="554.96" cy="575.98" r="3.9" fill="#231f20"/>
<circle cx="559.83" cy="595.73" r="3.9" fill="#231f20"/>
<circle cx="564.70" cy="618.22" r="3.9" fill="#231f20"/>
<circle cx="569.57" cy="622.90" r="3.9" fill="#231f20"/>
<circle cx="574.43" cy="622.90" r="3.9" fill="#231f20"/>
<circle cx="579.30" cy="620.08" r="3.9" fill="#231f20"/>
<circle cx="584.17" cy="593.32" r="3.9" fill="#231f20"/>
<circle cx="589.04" cy="584.37" r="3.9" fill="#231f20"/>
<circle cx="593.90" cy="577.49" r="3.9" fill="#231f20"/>
<circle cx="598.77" cy="565.11" r="3.9" fill="#231f20"/>
<circle cx="603.64" cy="558.23" r="3.9" fill="#231f20"/>
<circle cx="608.51" cy="568.48" r="3.9" fill="#231f20"/>
<circle cx="613.38" cy="564.22" r="3.9" fill="#231f20"/>
<circle cx="618.24" cy="580.32" r="3.9" fill="#231f20"/>
<circle cx="623.11" cy="594.21" r="3.9" fill="#231f20"/>
<circle cx="627.98" cy="614.44" r="3.9" fill="#231f20"/>
<circle cx="632.85" cy="613.89" r="3.9" fill="#231f20"/>
<circle cx="637.71" cy="610.31" r="3.9" fill="#231f20"/>
<circle cx="642.58" cy="610.72" r="3.9" fill="#231f20"/>
<circle cx="647.45" cy="606.39" r="3.9" fill="#231f20"/>
<circle cx="652.32" cy="585.41" r="3.9" fill="#231f20"/>
<circle cx="657.18" cy="584.37" r="3.9" fill="#231f20"/>
<circle cx="662.05" cy="578.80" r="3.9" fill="#231f20"/>
<text x="348.6" y="531.9" font-size="15.2" text-anchor="end" textLength="33.2" lengthAdjust="spacingAndGlyphs" >0.40</text>
<text x="348.6" y="566.3000000000001" font-size="15.2" text-anchor="end" textLength="33.2" lengthAdjust="spacingAndGlyphs" >0.35</text>
<text x="348.6" y="600.7" font-size="15.2" text-anchor="end" textLength="33.2" lengthAdjust="spacingAndGlyphs" >0.30</text>
<text x="348.6" y="635.1" font-size="15.2" text-anchor="end" textLength="33.2" lengthAdjust="spacingAndGlyphs" >0.25</text>
<text x="348.6" y="669.5" font-size="15.2" text-anchor="end" textLength="33.2" lengthAdjust="spacingAndGlyphs" >0.20</text>
<text x="370.0" y="693.0" font-size="15.2" text-anchor="middle" >0</text>
<text x="467.35" y="693.0" font-size="15.2" text-anchor="middle" >5</text>
<text x="564.7" y="693.0" font-size="15.2" text-anchor="middle" >10</text>
<text x="662.05" y="693.0" font-size="15.2" text-anchor="middle" >15</text>
<text x="472.8" y="716.6" font-size="17" textLength="86.9" lengthAdjust="spacingAndGlyphs" >Wait, τ (µs)</text>
<g transform="translate(303.1,665.3) rotate(-90)"><text x="-1.45" y="0" font-size="17" textLength="69.2" lengthAdjust="spacingAndGlyphs">Electron</text><path d="M78.45,0.00 L78.45,-11.80 M73.75,-7.50 L78.45,-12.40 L83.15,-7.50" fill="none" stroke="#231f20" stroke-width="1.35" stroke-linejoin="miter" stroke-linecap="butt"/><text x="89.45" y="0" font-size="17" textLength="63.8" lengthAdjust="spacingAndGlyphs">fraction</text></g>
<text x="590.3" y="526.8" font-size="17.5" font-style="italic" textLength="10.6" lengthAdjust="spacingAndGlyphs" >T</text>
<text x="601.6" y="519.6" font-size="11" >*</text>
<text x="605.3" y="532.5" font-size="12.7" >2</text>
<text x="616.6" y="526.8" font-size="16" textLength="9.2" lengthAdjust="spacingAndGlyphs" >=</text>
<text x="630.2" y="526.9" font-size="17" textLength="39.5" lengthAdjust="spacingAndGlyphs" >12 µs</text>
<line x1="356.3" y1="782.40" x2="675.6" y2="782.40" stroke="#b5b5b5" stroke-width="1" stroke-dasharray="1.2 2.3"/>
<line x1="356.3" y1="828.00" x2="675.6" y2="828.00" stroke="#b5b5b5" stroke-width="1" stroke-dasharray="1.2 2.3"/>
<line x1="356.3" y1="873.60" x2="675.6" y2="873.60" stroke="#b5b5b5" stroke-width="1" stroke-dasharray="1.2 2.3"/>
<line x1="466.70" y1="742.4" x2="466.70" y2="909.4" stroke="#b5b5b5" stroke-width="1" stroke-dasharray="1.2 2.3"/>
<line x1="605.40" y1="742.4" x2="605.40" y2="909.4" stroke="#b5b5b5" stroke-width="1" stroke-dasharray="1.2 2.3"/>
<rect x="355.3" y="741.4" width="321.3" height="169.0" fill="none" stroke="#8c8c8c" stroke-width="1.2"/>
<circle cx="369.75" cy="761.3" r="3.0" fill="#f0845f" fill-opacity="0.4"/>
<circle cx="369.75" cy="765" r="3.0" fill="#f0845f" fill-opacity="0.4"/>
<circle cx="369.75" cy="769" r="3.0" fill="#f0845f" fill-opacity="0.4"/>
<circle cx="369.75" cy="774" r="3.0" fill="#f0845f" fill-opacity="0.4"/>
<circle cx="369.75" cy="778.5" r="3.0" fill="#f0845f" fill-opacity="0.4"/>
<circle cx="424.95" cy="779.4" r="3.0" fill="#f0845f" fill-opacity="0.4"/>
<circle cx="424.95" cy="787.2" r="3.0" fill="#f0845f" fill-opacity="0.4"/>
<circle cx="424.95" cy="792.3" r="3.0" fill="#f0845f" fill-opacity="0.4"/>
<circle cx="482.50" cy="768.2" r="3.0" fill="#f0845f" fill-opacity="0.4"/>
<circle cx="482.50" cy="781.1" r="3.0" fill="#f0845f" fill-opacity="0.4"/>
<circle cx="482.50" cy="792.3" r="3.0" fill="#f0845f" fill-opacity="0.4"/>
<circle cx="482.50" cy="796.3" r="3.0" fill="#f0845f" fill-opacity="0.4"/>
<circle cx="482.50" cy="804.0" r="3.0" fill="#f0845f" fill-opacity="0.4"/>
<circle cx="482.50" cy="833.6" r="3.0" fill="#f0845f" fill-opacity="0.4"/>
<circle cx="543.86" cy="772.2" r="3.0" fill="#f0845f" fill-opacity="0.4"/>
<circle cx="543.86" cy="786.3" r="3.0" fill="#f0845f" fill-opacity="0.4"/>
<circle cx="543.86" cy="790.6" r="3.0" fill="#f0845f" fill-opacity="0.4"/>
<circle cx="543.86" cy="804.4" r="3.0" fill="#f0845f" fill-opacity="0.4"/>
<circle cx="543.86" cy="811.3" r="3.0" fill="#f0845f" fill-opacity="0.4"/>
<circle cx="543.86" cy="815.6" r="3.0" fill="#f0845f" fill-opacity="0.4"/>
<circle cx="543.86" cy="818.7" r="3.0" fill="#f0845f" fill-opacity="0.4"/>
<circle cx="602.94" cy="763.3" r="3.0" fill="#f0845f" fill-opacity="0.4"/>
<circle cx="602.94" cy="771.2" r="3.0" fill="#f0845f" fill-opacity="0.4"/>
<circle cx="602.94" cy="776.4" r="3.0" fill="#f0845f" fill-opacity="0.4"/>
<circle cx="602.94" cy="791.7" r="3.0" fill="#f0845f" fill-opacity="0.4"/>
<circle cx="602.94" cy="798.7" r="3.0" fill="#f0845f" fill-opacity="0.4"/>
<circle cx="602.94" cy="817.1" r="3.0" fill="#f0845f" fill-opacity="0.4"/>
<circle cx="602.94" cy="823.2" r="3.0" fill="#f0845f" fill-opacity="0.4"/>
<circle cx="602.94" cy="830.2" r="3.0" fill="#f0845f" fill-opacity="0.4"/>
<circle cx="602.94" cy="846.0" r="3.0" fill="#f0845f" fill-opacity="0.4"/>
<circle cx="662.02" cy="792.6" r="3.0" fill="#f0845f" fill-opacity="0.4"/>
<circle cx="662.02" cy="804.9" r="3.0" fill="#f0845f" fill-opacity="0.4"/>
<circle cx="662.02" cy="806.9" r="3.0" fill="#f0845f" fill-opacity="0.4"/>
<circle cx="662.02" cy="809.7" r="3.0" fill="#f0845f" fill-opacity="0.4"/>
<circle cx="662.02" cy="811.8" r="3.0" fill="#f0845f" fill-opacity="0.4"/>
<circle cx="662.02" cy="844.4" r="3.0" fill="#f0845f" fill-opacity="0.4"/>
<circle cx="369.75" cy="867.2" r="3.0" fill="#7b5fae" fill-opacity="0.45"/>
<circle cx="369.75" cy="873.2" r="3.0" fill="#7b5fae" fill-opacity="0.45"/>
<circle cx="369.75" cy="880" r="3.0" fill="#7b5fae" fill-opacity="0.45"/>
<circle cx="369.75" cy="889.5" r="3.0" fill="#7b5fae" fill-opacity="0.45"/>
<circle cx="369.75" cy="894.7" r="3.0" fill="#7b5fae" fill-opacity="0.45"/>
<circle cx="369.75" cy="899.9" r="3.0" fill="#7b5fae" fill-opacity="0.45"/>
<circle cx="424.95" cy="860.3" r="3.0" fill="#7b5fae" fill-opacity="0.45"/>
<circle cx="424.95" cy="863.7" r="3.0" fill="#7b5fae" fill-opacity="0.45"/>
<circle cx="424.95" cy="868" r="3.0" fill="#7b5fae" fill-opacity="0.45"/>
<circle cx="424.95" cy="877.5" r="3.0" fill="#7b5fae" fill-opacity="0.45"/>
<circle cx="424.95" cy="882.6" r="3.0" fill="#7b5fae" fill-opacity="0.45"/>
<circle cx="482.50" cy="819.3" r="3.0" fill="#7b5fae" fill-opacity="0.45"/>
<circle cx="482.50" cy="862" r="3.0" fill="#7b5fae" fill-opacity="0.45"/>
<circle cx="482.50" cy="865.5" r="3.0" fill="#7b5fae" fill-opacity="0.45"/>
<circle cx="482.50" cy="878.4" r="3.0" fill="#7b5fae" fill-opacity="0.45"/>
<circle cx="482.50" cy="883.5" r="3.0" fill="#7b5fae" fill-opacity="0.45"/>
<circle cx="482.50" cy="888.2" r="3.0" fill="#7b5fae" fill-opacity="0.45"/>
<circle cx="543.86" cy="831" r="3.0" fill="#7b5fae" fill-opacity="0.45"/>
<circle cx="543.86" cy="843.1" r="3.0" fill="#7b5fae" fill-opacity="0.45"/>
<circle cx="543.86" cy="844.8" r="3.0" fill="#7b5fae" fill-opacity="0.45"/>
<circle cx="543.86" cy="851.7" r="3.0" fill="#7b5fae" fill-opacity="0.45"/>
<circle cx="543.86" cy="868.9" r="3.0" fill="#7b5fae" fill-opacity="0.45"/>
<circle cx="543.86" cy="870.6" r="3.0" fill="#7b5fae" fill-opacity="0.45"/>
<circle cx="543.86" cy="877.2" r="3.0" fill="#7b5fae" fill-opacity="0.45"/>
<circle cx="602.94" cy="813.2" r="3.0" fill="#7b5fae" fill-opacity="0.45"/>
<circle cx="602.94" cy="821.5" r="3.0" fill="#7b5fae" fill-opacity="0.45"/>
<circle cx="602.94" cy="823.6" r="3.0" fill="#7b5fae" fill-opacity="0.45"/>
<circle cx="602.94" cy="840.2" r="3.0" fill="#7b5fae" fill-opacity="0.45"/>
<circle cx="602.94" cy="865.9" r="3.0" fill="#7b5fae" fill-opacity="0.45"/>
<circle cx="602.94" cy="872.1" r="3.0" fill="#7b5fae" fill-opacity="0.45"/>
<circle cx="602.94" cy="883.9" r="3.0" fill="#7b5fae" fill-opacity="0.45"/>
<circle cx="602.94" cy="898.5" r="3.0" fill="#7b5fae" fill-opacity="0.45"/>
<circle cx="662.02" cy="814.6" r="3.0" fill="#7b5fae" fill-opacity="0.45"/>
<circle cx="662.02" cy="825" r="3.0" fill="#7b5fae" fill-opacity="0.45"/>
<circle cx="662.02" cy="847.9" r="3.0" fill="#7b5fae" fill-opacity="0.45"/>
<circle cx="662.02" cy="850" r="3.0" fill="#7b5fae" fill-opacity="0.45"/>
<circle cx="662.02" cy="852.7" r="3.0" fill="#7b5fae" fill-opacity="0.45"/>
<circle cx="662.02" cy="855.5" r="3.0" fill="#7b5fae" fill-opacity="0.45"/>
<polyline points="369.75,779.76 371.22,779.78 372.69,779.80 374.16,779.82 375.63,779.84 377.10,779.86 378.57,779.88 380.03,779.91 381.50,779.93 382.97,779.95 384.44,779.97 385.91,780.00 387.38,780.02 388.85,780.05 390.31,780.08 391.78,780.10 393.25,780.13 394.72,780.16 396.19,780.19 397.66,780.22 399.13,780.25 400.60,780.28 402.06,780.31 403.53,780.34 405.00,780.37 406.47,780.41 407.94,780.44 409.41,780.48 410.88,780.51 412.34,780.55 413.81,780.59 415.28,780.63 416.75,780.67 418.22,780.71 419.69,780.75 421.16,780.79 422.63,780.84 424.09,780.88 425.56,780.93 427.03,780.98 428.50,781.02 429.97,781.07 431.44,781.12 432.91,781.18 434.38,781.23 435.84,781.28 437.31,781.34 438.78,781.40 440.25,781.45 441.72,781.51 443.19,781.57 444.66,781.64 446.12,781.70 447.59,781.76 449.06,781.83 450.53,781.90 452.00,781.97 453.47,782.04 454.94,782.11 456.41,782.19 457.87,782.27 459.34,782.34 460.81,782.42 462.28,782.51 463.75,782.59 465.22,782.67 466.69,782.76 468.16,782.85 469.62,782.94 471.09,783.04 472.56,783.13 474.03,783.23 475.50,783.33 476.97,783.43 478.44,783.54 479.90,783.65 481.37,783.75 482.84,783.87 484.31,783.98 485.78,784.10 487.25,784.22 488.72,784.34 490.19,784.46 491.65,784.59 493.12,784.72 494.59,784.85 496.06,784.99 497.53,785.13 499.00,785.27 500.47,785.41 501.94,785.56 503.40,785.71 504.87,785.87 506.34,786.02 507.81,786.18 509.28,786.35 510.75,786.51 512.22,786.68 513.68,786.86 515.15,787.04 516.62,787.22 518.09,787.40 519.56,787.59 521.03,787.78 522.50,787.98 523.97,788.18 525.43,788.38 526.90,788.59 528.37,788.80 529.84,789.02 531.31,789.24 532.78,789.46 534.25,789.69 535.72,789.92 537.18,790.16 538.65,790.40 540.12,790.64 541.59,790.89 543.06,791.15 544.53,791.41 546.00,791.67 547.46,791.94 548.93,792.21 550.40,792.49 551.87,792.77 553.34,793.05 554.81,793.35 556.28,793.64 557.75,793.94 559.21,794.25 560.68,794.55 562.15,794.87 563.62,795.19 565.09,795.51 566.56,795.84 568.03,796.17 569.50,796.51 570.96,796.85 572.43,797.20 573.90,797.55 575.37,797.91 576.84,798.27 578.31,798.63 579.78,799.00 581.24,799.37 582.71,799.75 584.18,800.13 585.65,800.52 587.12,800.91 588.59,801.30 590.06,801.70 591.53,802.10 592.99,802.50 594.46,802.91 595.93,803.32 597.40,803.74 598.87,804.16 600.34,804.58 601.81,805.00 603.28,805.42 604.74,805.85 606.21,806.28 607.68,806.71 609.15,807.15 610.62,807.58 612.09,808.02 613.56,808.46 615.02,808.90 616.49,809.34 617.96,809.78 619.43,810.22 620.90,810.65 622.37,811.09 623.84,811.53 625.31,811.97 626.77,812.41 628.24,812.84 629.71,813.27 631.18,813.70 632.65,814.13 634.12,814.56 635.59,814.98 637.06,815.40 638.52,815.82 639.99,816.23 641.46,816.63 642.93,817.04 644.40,817.43 645.87,817.83 647.34,818.21 648.80,818.60 650.27,818.97 651.74,819.34 653.21,819.70 654.68,820.06 656.15,820.41 657.62,820.75 659.09,821.08 660.55,821.41 662.02,821.73" fill="none" stroke="#f0845f" stroke-width="4.1" stroke-linecap="round"/>
<polyline points="369.75,875.58 371.22,875.56 372.69,875.54 374.16,875.52 375.63,875.50 377.10,875.48 378.57,875.46 380.03,875.44 381.50,875.41 382.97,875.39 384.44,875.37 385.91,875.34 387.38,875.32 388.85,875.29 390.31,875.27 391.78,875.24 393.25,875.22 394.72,875.19 396.19,875.16 397.66,875.13 399.13,875.10 400.60,875.07 402.06,875.04 403.53,875.01 405.00,874.98 406.47,874.95 407.94,874.91 409.41,874.88 410.88,874.84 412.34,874.81 413.81,874.77 415.28,874.73 416.75,874.69 418.22,874.65 419.69,874.61 421.16,874.57 422.63,874.53 424.09,874.48 425.56,874.44 427.03,874.39 428.50,874.34 429.97,874.30 431.44,874.25 432.91,874.20 434.38,874.15 435.84,874.09 437.31,874.04 438.78,873.98 440.25,873.93 441.72,873.87 443.19,873.81 444.66,873.75 446.12,873.69 447.59,873.62 449.06,873.56 450.53,873.49 452.00,873.42 453.47,873.35 454.94,873.28 456.41,873.21 457.87,873.14 459.34,873.06 460.81,872.98 462.28,872.90 463.75,872.82 465.22,872.74 466.69,872.65 468.16,872.56 469.62,872.47 471.09,872.38 472.56,872.29 474.03,872.19 475.50,872.10 476.97,872.00 478.44,871.90 479.90,871.79 481.37,871.68 482.84,871.58 484.31,871.46 485.78,871.35 487.25,871.23 488.72,871.11 490.19,870.99 491.65,870.87 493.12,870.74 494.59,870.61 496.06,870.48 497.53,870.35 499.00,870.21 500.47,870.07 501.94,869.92 503.40,869.78 504.87,869.63 506.34,869.47 507.81,869.32 509.28,869.16 510.75,868.99 512.22,868.83 513.68,868.66 515.15,868.48 516.62,868.31 518.09,868.13 519.56,867.94 521.03,867.75 522.50,867.56 523.97,867.37 525.43,867.17 526.90,866.97 528.37,866.76 529.84,866.55 531.31,866.33 532.78,866.12 534.25,865.89 535.72,865.67 537.18,865.43 538.65,865.20 540.12,864.96 541.59,864.72 543.06,864.47 544.53,864.21 546.00,863.96 547.46,863.70 548.93,863.43 550.40,863.16 551.87,862.88 553.34,862.60 554.81,862.32 556.28,862.03 557.75,861.74 559.21,861.44 560.68,861.14 562.15,860.83 563.62,860.52 565.09,860.20 566.56,859.88 568.03,859.55 569.50,859.22 570.96,858.89 572.43,858.55 573.90,858.21 575.37,857.86 576.84,857.50 578.31,857.15 579.78,856.78 581.24,856.42 582.71,856.05 584.18,855.67 585.65,855.30 587.12,854.91 588.59,854.53 590.06,854.14 591.53,853.74 592.99,853.35 594.46,852.95 595.93,852.54 597.40,852.14 598.87,851.73 600.34,851.31 601.81,850.90 603.28,850.48 604.74,850.06 606.21,849.63 607.68,849.21 609.15,848.78 610.62,848.35 612.09,847.92 613.56,847.49 615.02,847.06 616.49,846.63 617.96,846.19 619.43,845.76 620.90,845.33 622.37,844.89 623.84,844.46 625.31,844.03 626.77,843.60 628.24,843.17 629.71,842.74 631.18,842.32 632.65,841.89 634.12,841.47 635.59,841.05 637.06,840.64 638.52,840.23 639.99,839.82 641.46,839.41 642.93,839.02 644.40,838.62 645.87,838.23 647.34,837.85 648.80,837.47 650.27,837.09 651.74,836.73 653.21,836.37 654.68,836.01 656.15,835.66 657.62,835.32 659.09,834.99 660.55,834.66 662.02,834.35" fill="none" stroke="#4e2175" stroke-width="4.1" stroke-linecap="round"/>
<circle cx="369.75" cy="770.6" r="3.9" fill="#231f20"/>
<circle cx="424.95" cy="783.0" r="3.9" fill="#231f20"/>
<circle cx="482.50" cy="789.4" r="3.9" fill="#231f20"/>
<circle cx="543.86" cy="798.9" r="3.9" fill="#231f20"/>
<circle cx="602.94" cy="804.9" r="3.9" fill="#231f20"/>
<circle cx="662.02" cy="818.0" r="3.9" fill="#231f20"/>
<circle cx="369.75" cy="885.5" r="3.9" fill="#231f20"/>
<circle cx="424.95" cy="872.8" r="3.9" fill="#231f20"/>
<circle cx="482.50" cy="866.8" r="3.9" fill="#231f20"/>
<circle cx="543.86" cy="857.2" r="3.9" fill="#231f20"/>
<circle cx="602.94" cy="851.4" r="3.9" fill="#231f20"/>
<circle cx="662.02" cy="838.3" r="3.9" fill="#231f20"/>
<line x1="370.5" y1="814" x2="401.9" y2="814" stroke="#f0845f" stroke-width="4.1" stroke-linecap="round"/>
<line x1="370.5" y1="839.8" x2="401.9" y2="839.8" stroke="#4e2175" stroke-width="4.1" stroke-linecap="round"/>
<text x="411.0" y="819.8" font-size="18.4" textLength="11.6" lengthAdjust="spacingAndGlyphs" >P</text>
<path d="M425.45,825.00 L425.45,817.20 M422.25,820.00 L425.45,816.60 L428.65,820.00" fill="none" stroke="#231f20" stroke-width="1.0" stroke-linejoin="miter" stroke-linecap="butt"/>
<line x1="430.9" y1="802.4" x2="430.9" y2="813.3" stroke="#231f20" stroke-width="1.1"/>
<path d="M436.85,811.50 L436.85,803.30 M433.95,806.30 L436.85,802.70 L439.75,806.30" fill="none" stroke="#231f20" stroke-width="1.7" stroke-linejoin="miter" stroke-linecap="butt"/>
<path d="M441.9,804.8 L446.6,807.4 L441.9,810.0" fill="none" stroke="#231f20" stroke-width="1.0"/>
<text x="411.0" y="848.0" font-size="18.4" textLength="11.6" lengthAdjust="spacingAndGlyphs" >P</text>
<path d="M425.45,853.20 L425.45,845.40 M422.25,848.20 L425.45,844.80 L428.65,848.20" fill="none" stroke="#231f20" stroke-width="1.0" stroke-linejoin="miter" stroke-linecap="butt"/>
<line x1="430.9" y1="830.6" x2="430.9" y2="841.5" stroke="#231f20" stroke-width="1.1"/>
<path d="M436.85,831.20 L436.85,839.00 M433.95,836.00 L436.85,839.60 L439.75,836.00" fill="none" stroke="#231f20" stroke-width="1.7" stroke-linejoin="miter" stroke-linecap="butt"/>
<path d="M441.9,832.4 L446.6,835.0 L441.9,837.6" fill="none" stroke="#231f20" stroke-width="1.0"/>
<text x="346.3" y="788.3" font-size="15.2" text-anchor="end" textLength="23.5" lengthAdjust="spacingAndGlyphs" >0.6</text>
<text x="346.3" y="833.9" font-size="15.2" text-anchor="end" textLength="23.5" lengthAdjust="spacingAndGlyphs" >0.5</text>
<text x="346.3" y="879.4999999999999" font-size="15.2" text-anchor="end" textLength="23.5" lengthAdjust="spacingAndGlyphs" >0.4</text>
<text x="466.7" y="929.0" font-size="15.2" text-anchor="middle" >10</text>
<text x="605.4" y="929.0" font-size="15.2" text-anchor="middle" >100</text>
<text x="406.2" y="953.0" font-size="17" textLength="218.4" lengthAdjust="spacingAndGlyphs" >Number of clifford gates, <tspan font-style="italic">n</tspan></text>
<g transform="translate(309.7,901.6) rotate(-90)"><text x="-1.45" y="0" font-size="17" textLength="69.2" lengthAdjust="spacingAndGlyphs">Electron</text><path d="M78.45,0.00 L78.45,-11.80 M73.75,-7.50 L78.45,-12.40 L83.15,-7.50" fill="none" stroke="#231f20" stroke-width="1.35" stroke-linejoin="miter" stroke-linecap="butt"/><text x="89.45" y="0" font-size="17" textLength="63.8" lengthAdjust="spacingAndGlyphs">fraction</text></g>
<text x="486.0" y="760.7" font-size="17" font-style="italic" >F</text>
<text x="495.6" y="766.3" font-size="13" textLength="41.7" lengthAdjust="spacingAndGlyphs" >Clifford</text>
<text x="542.6" y="760.7" font-size="17" textLength="126.6" lengthAdjust="spacingAndGlyphs" >= 99.58 ± 0.14%</text>
<text x="462.2" y="899.5" font-size="17" font-style="italic" >F</text>
<text x="471.1" y="903.8" font-size="13" textLength="64.5" lengthAdjust="spacingAndGlyphs" >Single gate</text>
<text x="540.6" y="899.5" font-size="17" textLength="128.3" lengthAdjust="spacingAndGlyphs" >= 99.78 ± 0.07%</text>
</svg></body></html>
